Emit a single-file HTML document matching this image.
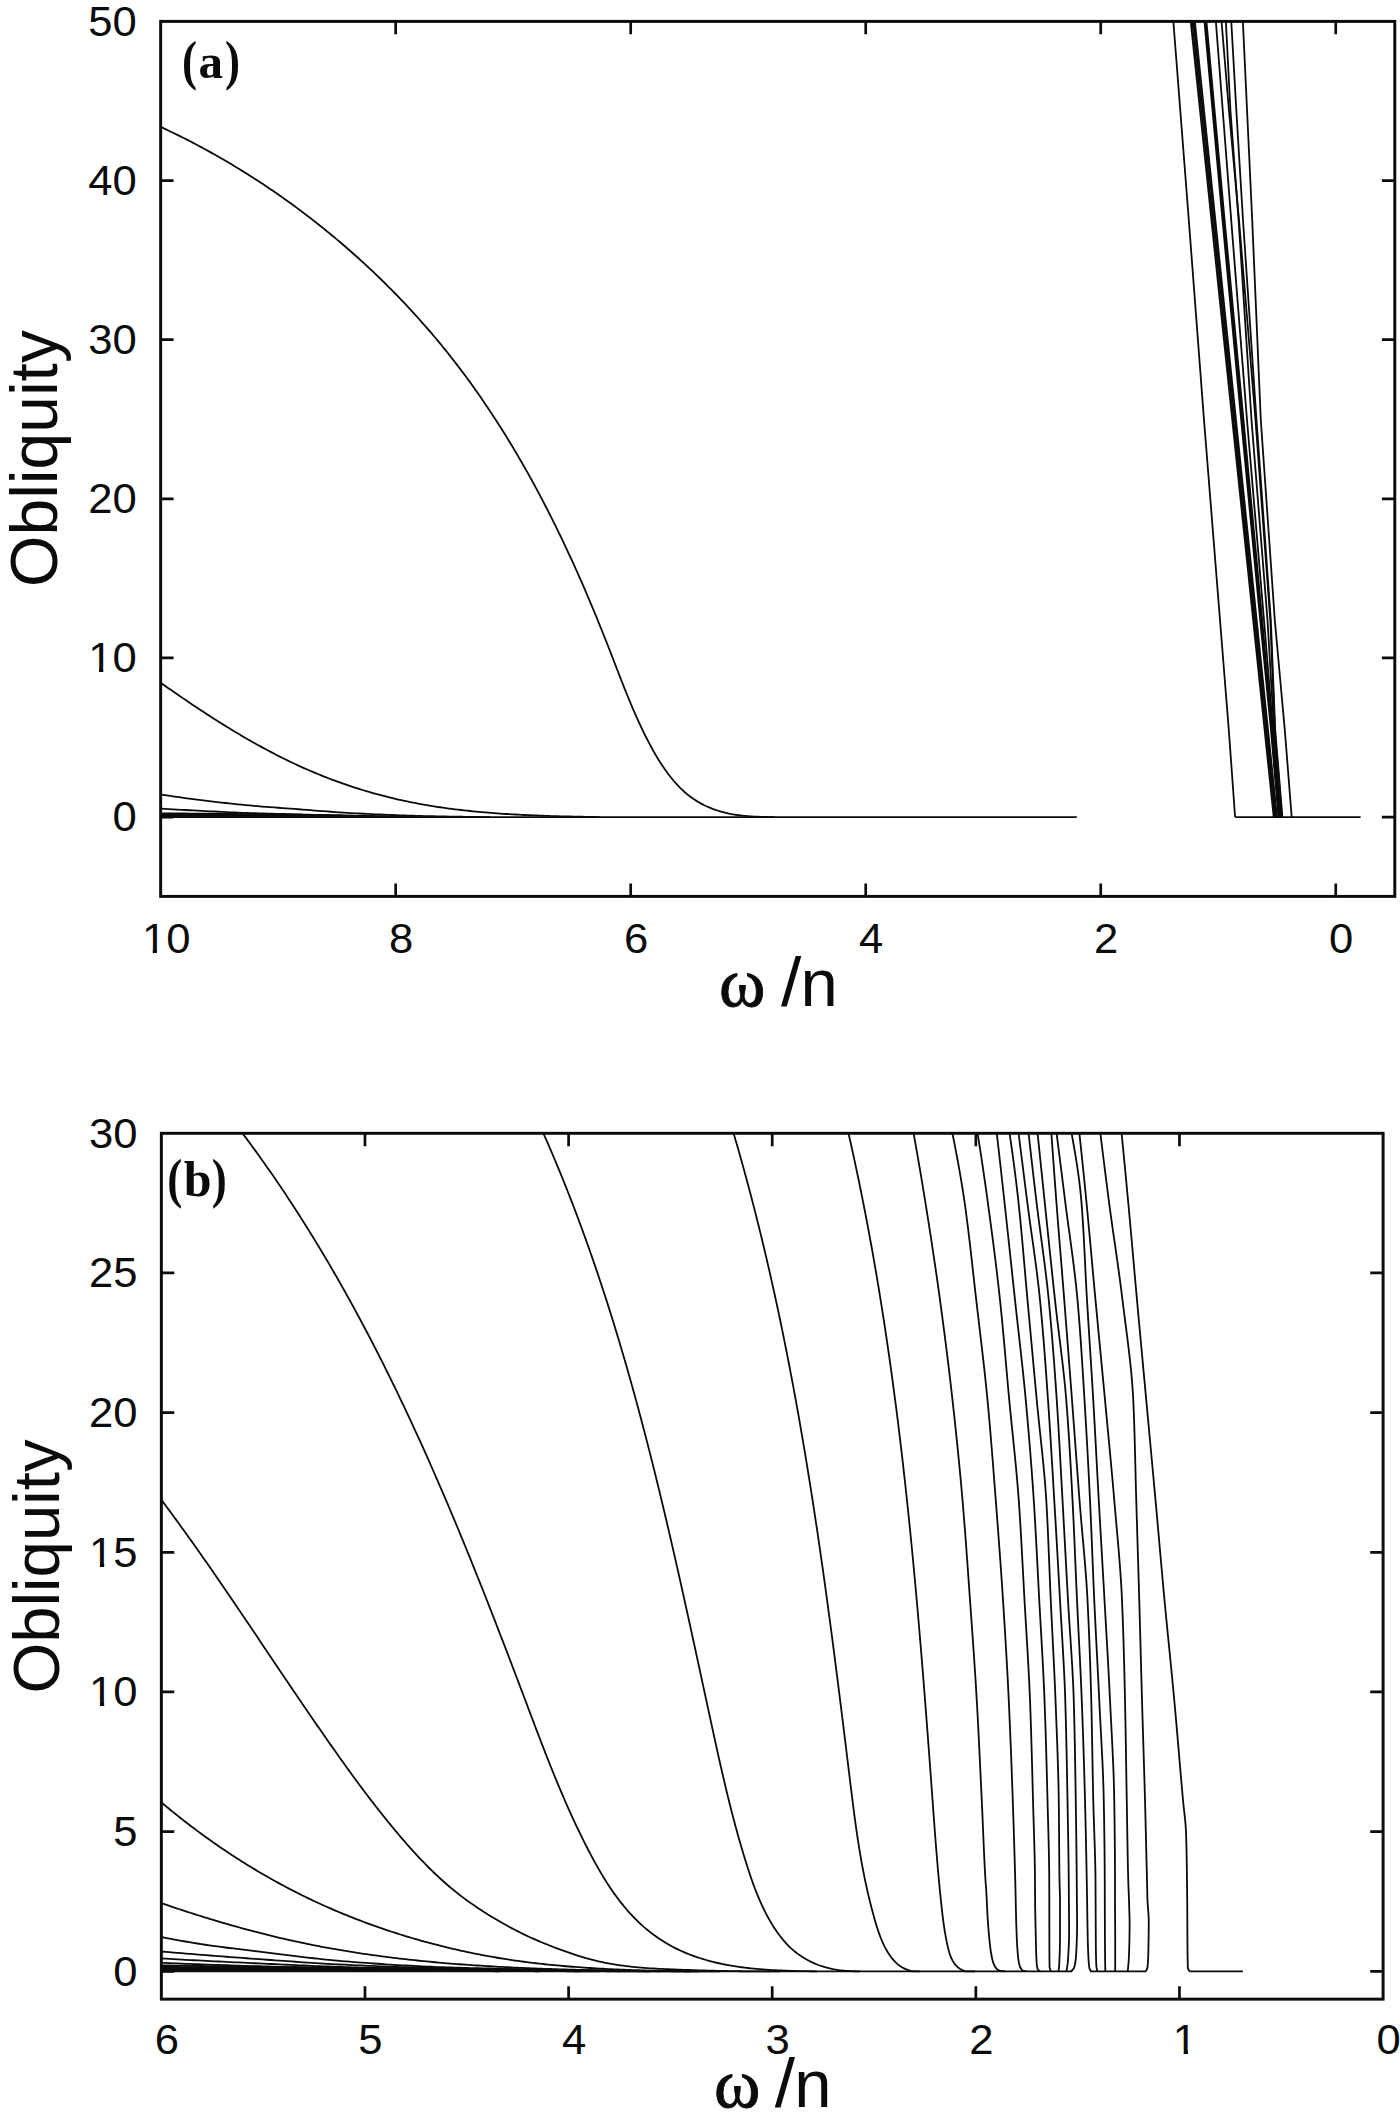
<!DOCTYPE html>
<html lang="en">
<head>
<meta charset="utf-8">
<title>Obliquity vs ω/n</title>
<style>
html,body{margin:0;padding:0;background:#fff;}
body{width:1400px;height:2126px;overflow:hidden;}
svg{display:block;}
</style>
</head>
<body>
<svg width="1400" height="2126" viewBox="0 0 1400 2126">
<rect width="1400" height="2126" fill="#ffffff"/>
<clipPath id="ca"><rect x="160.65" y="21.4" width="1234.15" height="875"/></clipPath>
<g clip-path="url(#ca)" fill="none" stroke="#0b0b0b" stroke-width="1.8" stroke-linejoin="round">
<path d="M160.65,126.90 L163.34,128.15 L166.03,129.41 L168.72,130.69 L171.40,131.97 L174.08,133.27 L176.75,134.58 L179.42,135.89 L182.09,137.22 L184.75,138.57 L187.41,139.92 L190.06,141.28 L192.71,142.66 L195.36,144.05 L198.00,145.44 L200.64,146.85 L203.27,148.27 L205.90,149.70 L208.52,151.14 L211.14,152.60 L213.76,154.06 L216.37,155.53 L218.98,157.02 L221.58,158.51 L224.18,160.02 L226.77,161.54 L229.36,163.06 L231.94,164.60 L234.52,166.15 L237.09,167.71 L239.66,169.28 L242.22,170.86 L244.78,172.45 L247.33,174.05 L249.88,175.66 L252.42,177.28 L254.96,178.91 L257.49,180.55 L260.01,182.20 L262.53,183.86 L265.05,185.54 L267.56,187.22 L270.06,188.91 L272.56,190.61 L275.05,192.32 L277.54,194.04 L280.02,195.77 L282.49,197.51 L284.96,199.26 L287.42,201.02 L289.88,202.79 L292.33,204.56 L294.77,206.35 L297.21,208.15 L299.64,209.96 L302.07,211.77 L304.48,213.60 L306.90,215.43 L309.30,217.27 L311.70,219.13 L314.10,220.99 L316.48,222.86 L318.86,224.74 L321.23,226.63 L323.60,228.53 L325.96,230.43 L328.31,232.35 L330.66,234.27 L332.99,236.21 L335.32,238.15 L337.65,240.10 L339.97,242.06 L342.27,244.03 L344.58,246.01 L346.87,247.99 L349.16,249.98 L351.44,251.99 L353.71,254.00 L355.98,256.02 L358.24,258.04 L360.48,260.08 L362.73,262.12 L364.96,264.18 L367.19,266.24 L369.41,268.31 L371.62,270.38 L373.82,272.47 L376.02,274.56 L378.20,276.66 L380.38,278.77 L382.55,280.88 L384.72,283.01 L386.87,285.14 L389.02,287.28 L391.15,289.43 L393.28,291.58 L395.40,293.75 L397.51,295.92 L399.62,298.09 L401.71,300.28 L403.80,302.47 L405.88,304.67 L407.95,306.88 L410.01,309.09 L412.06,311.32 L414.10,313.54 L416.13,315.78 L418.16,318.02 L420.17,320.28 L422.18,322.53 L424.17,324.80 L426.16,327.07 L428.14,329.35 L430.11,331.63 L432.07,333.93 L434.02,336.23 L435.96,338.53 L437.89,340.84 L439.81,343.16 L441.72,345.49 L443.62,347.82 L445.51,350.16 L447.40,352.51 L449.27,354.86 L451.13,357.22 L452.98,359.58 L454.83,361.95 L456.66,364.33 L458.48,366.72 L460.30,369.11 L462.10,371.50 L463.90,373.90 L465.69,376.31 L467.46,378.73 L469.23,381.15 L470.99,383.57 L472.74,386.01 L474.48,388.45 L476.21,390.89 L477.93,393.34 L479.65,395.80 L481.35,398.26 L483.05,400.72 L484.73,403.20 L486.41,405.67 L488.08,408.16 L489.74,410.65 L491.39,413.14 L493.04,415.64 L494.67,418.15 L496.30,420.66 L497.92,423.17 L499.53,425.70 L501.13,428.22 L502.72,430.75 L504.31,433.29 L505.89,435.83 L507.46,438.38 L509.02,440.93 L510.57,443.49 L512.12,446.05 L513.65,448.62 L515.18,451.19 L516.71,453.76 L518.22,456.34 L519.73,458.93 L521.23,461.52 L522.72,464.12 L524.20,466.71 L525.68,469.32 L527.15,471.93 L528.61,474.54 L530.06,477.16 L531.51,479.78 L532.95,482.40 L534.38,485.03 L535.81,487.67 L537.23,490.31 L538.64,492.95 L540.04,495.60 L541.44,498.25 L542.83,500.90 L544.22,503.56 L545.59,506.22 L546.96,508.89 L548.33,511.56 L549.69,514.24 L551.04,516.91 L552.38,519.59 L553.72,522.28 L555.05,524.97 L556.38,527.66 L557.70,530.36 L559.01,533.06 L560.32,535.76 L561.62,538.47 L562.91,541.18 L564.20,543.89 L565.48,546.61 L566.76,549.33 L568.03,552.05 L569.30,554.78 L570.56,557.50 L571.81,560.24 L573.06,562.97 L574.30,565.71 L575.54,568.45 L576.77,571.20 L578.00,573.94 L579.22,576.69 L580.43,579.45 L581.64,582.20 L582.85,584.96 L584.05,587.72 L585.24,590.48 L586.43,593.25 L587.61,596.02 L588.79,598.79 L589.97,601.56 L591.14,604.34 L592.30,607.12 L593.46,609.90 L594.62,612.68 L595.77,615.46 L596.91,618.25 L598.05,621.04 L599.19,623.83 L600.32,626.63 L601.45,629.42 L602.57,632.22 L603.69,635.02 L604.81,637.82 L605.92,640.62 L607.02,643.43 L608.13,646.23 L609.22,649.04 L610.32,651.85 L611.41,654.66 L612.50,657.48 L613.58,660.29 L614.67,663.10 L615.75,665.92 L616.84,668.73 L617.93,671.54 L619.02,674.36 L620.11,677.17 L621.20,679.98 L622.31,682.78 L623.41,685.59 L624.52,688.39 L625.64,691.19 L626.77,693.98 L627.90,696.78 L629.05,699.57 L630.20,702.35 L631.37,705.13 L632.55,707.90 L633.73,710.67 L634.94,713.44 L636.15,716.19 L637.39,718.95 L638.63,721.69 L639.90,724.43 L641.18,727.16 L642.48,729.88 L643.79,732.60 L645.13,735.30 L646.49,738.00 L647.87,740.69 L649.27,743.37 L650.69,746.04 L652.14,748.70 L653.61,751.34 L655.11,753.97 L656.64,756.59 L658.21,759.18 L659.80,761.75 L661.43,764.29 L663.10,766.81 L664.81,769.30 L666.56,771.75 L668.36,774.18 L670.20,776.56 L672.08,778.91 L674.02,781.22 L676.01,783.48 L678.05,785.69 L680.14,787.85 L682.29,789.95 L684.50,791.97 L686.78,793.93 L689.11,795.79 L691.51,797.58 L693.96,799.27 L696.47,800.88 L699.04,802.41 L701.66,803.85 L704.32,805.21 L707.03,806.49 L709.78,807.68 L712.57,808.79 L715.39,809.82 L718.25,810.77 L721.14,811.64 L724.05,812.43 L726.99,813.13 L729.95,813.77 L732.93,814.33 L735.93,814.82 L738.94,815.25 L741.96,815.62 L744.98,815.93 L748.01,816.20 L751.05,816.42 L754.08,816.60 L757.10,816.75 L760.12,816.86 L763.13,816.95 L766.12,817.01 L769.10,817.05 L772.06,817.08 L775.00,817.10"/>
<path d="M161.00,683.00 L163.45,684.71 L165.90,686.43 L168.35,688.14 L170.81,689.85 L173.27,691.56 L175.75,693.27 L178.22,694.98 L180.70,696.68 L183.19,698.38 L185.68,700.07 L188.18,701.76 L190.68,703.45 L193.19,705.13 L195.71,706.81 L198.23,708.48 L200.75,710.15 L203.29,711.81 L205.82,713.47 L208.37,715.12 L210.92,716.77 L213.47,718.40 L216.03,720.03 L218.60,721.66 L221.17,723.27 L223.75,724.88 L226.33,726.48 L228.92,728.07 L231.51,729.66 L234.12,731.23 L236.72,732.79 L239.34,734.35 L241.96,735.90 L244.58,737.43 L247.21,738.96 L249.85,740.47 L252.49,741.97 L255.14,743.46 L257.80,744.95 L260.46,746.41 L263.13,747.87 L265.81,749.31 L268.49,750.75 L271.17,752.16 L273.87,753.57 L276.57,754.96 L279.27,756.34 L281.99,757.70 L284.70,759.05 L287.43,760.39 L290.16,761.70 L292.90,763.01 L295.64,764.30 L298.40,765.57 L301.15,766.83 L303.92,768.07 L306.69,769.29 L309.47,770.50 L312.25,771.69 L315.04,772.86 L317.84,774.02 L320.64,775.16 L323.45,776.29 L326.26,777.39 L329.08,778.48 L331.91,779.56 L334.74,780.62 L337.58,781.66 L340.42,782.68 L343.27,783.69 L346.12,784.68 L348.98,785.65 L351.85,786.61 L354.72,787.54 L357.59,788.47 L360.47,789.37 L363.36,790.26 L366.25,791.13 L369.14,791.98 L372.05,792.81 L374.95,793.63 L377.86,794.43 L380.78,795.22 L383.69,795.98 L386.62,796.73 L389.55,797.46 L392.48,798.17 L395.42,798.86 L398.36,799.54 L401.30,800.20 L404.25,800.84 L407.21,801.47 L410.17,802.07 L413.13,802.66 L416.09,803.24 L419.06,803.79 L422.03,804.33 L425.01,804.86 L427.99,805.37 L430.97,805.86 L433.96,806.34 L436.94,806.80 L439.94,807.25 L442.93,807.69 L445.93,808.11 L448.93,808.52 L451.93,808.91 L454.93,809.29 L457.94,809.66 L460.95,810.01 L463.96,810.35 L466.97,810.68 L469.99,811.00 L473.00,811.31 L476.02,811.60 L479.04,811.89 L482.06,812.16 L485.08,812.42 L488.11,812.67 L491.13,812.92 L494.16,813.15 L497.19,813.37 L500.22,813.58 L503.24,813.79 L506.27,813.98 L509.31,814.17 L512.34,814.35 L515.37,814.52 L518.40,814.68 L521.43,814.84 L524.46,814.98 L527.49,815.13 L530.53,815.26 L533.56,815.39 L536.59,815.51 L539.62,815.63 L542.65,815.74 L545.68,815.84 L548.71,815.94 L551.74,816.03 L554.77,816.12 L557.79,816.21 L560.82,816.29 L563.84,816.37 L566.86,816.44 L569.88,816.51 L572.90,816.58 L575.92,816.65 L578.94,816.71 L581.95,816.77 L584.97,816.83 L587.98,816.88 L590.99,816.94 L593.99,816.99 L597.00,817.05 L600.00,817.10"/>
<path d="M160.65,794.50 L164.69,795.11 L168.72,795.72 L172.76,796.31 L176.80,796.89 L180.85,797.46 L184.89,798.02 L188.93,798.57 L192.98,799.10 L197.02,799.63 L201.07,800.15 L205.12,800.65 L209.17,801.14 L213.22,801.63 L217.27,802.10 L221.32,802.56 L225.37,803.01 L229.43,803.44 L233.48,803.87 L237.54,804.29 L241.59,804.69 L245.65,805.09 L249.71,805.47 L253.77,805.84 L257.83,806.19 L261.89,806.53 L265.96,806.85 L270.03,807.16 L274.10,807.47 L278.16,807.77 L282.23,808.06 L286.30,808.36 L290.37,808.66 L294.44,808.96 L298.51,809.27 L302.57,809.58 L306.64,809.90 L310.71,810.22 L314.77,810.53 L318.84,810.85 L322.91,811.16 L326.98,811.47 L331.04,811.77 L335.11,812.06 L339.18,812.33 L343.25,812.60 L347.32,812.85 L351.39,813.08 L355.46,813.30 L359.54,813.52 L363.61,813.73 L367.68,813.94 L371.76,814.14 L375.83,814.33 L379.91,814.51 L383.98,814.69 L388.06,814.86 L392.14,815.02 L396.21,815.17 L400.29,815.31 L404.36,815.45 L408.44,815.58 L412.52,815.71 L416.59,815.83 L420.67,815.95 L424.75,816.06 L428.83,816.16 L432.90,816.25 L436.98,816.34 L441.06,816.42 L445.14,816.50 L449.22,816.57 L453.29,816.64 L457.37,816.71 L461.45,816.77 L465.53,816.83 L469.61,816.89 L473.68,816.94 L477.76,816.99 L481.84,817.03 L485.92,817.07 L490.00,817.10"/>
<path d="M160.65,808.60 L164.76,808.85 L168.87,809.09 L172.99,809.33 L177.10,809.56 L181.21,809.80 L185.32,810.02 L189.44,810.25 L193.55,810.47 L197.66,810.68 L201.78,810.89 L205.89,811.10 L210.01,811.31 L214.12,811.52 L218.23,811.73 L222.35,811.93 L226.46,812.13 L230.58,812.32 L234.69,812.50 L238.81,812.67 L242.93,812.83 L247.04,812.97 L251.16,813.11 L255.28,813.24 L259.39,813.36 L263.51,813.48 L267.63,813.59 L271.75,813.70 L275.86,813.81 L279.98,813.91 L284.10,814.02 L288.22,814.12 L292.34,814.23 L296.45,814.34 L300.57,814.45 L304.69,814.56 L308.81,814.67 L312.93,814.78 L317.04,814.89 L321.16,814.99 L325.28,815.10 L329.40,815.21 L333.51,815.31 L337.63,815.41 L341.75,815.51 L345.87,815.61 L349.99,815.70 L354.11,815.79 L358.22,815.88 L362.34,815.97 L366.46,816.06 L370.58,816.15 L374.70,816.24 L378.81,816.32 L382.93,816.41 L387.05,816.49 L391.17,816.57 L395.29,816.65 L399.41,816.73 L403.53,816.81 L407.64,816.88 L411.76,816.96 L415.88,817.03 L420.00,817.10"/>
<path d="M160.65,813.30 L164.74,813.33 L168.83,813.37 L172.91,813.40 L177.00,813.44 L181.09,813.47 L185.18,813.51 L189.27,813.54 L193.35,813.58 L197.44,813.62 L201.53,813.66 L205.62,813.70 L209.71,813.74 L213.80,813.78 L217.88,813.82 L221.97,813.86 L226.06,813.90 L230.15,813.94 L234.24,813.99 L238.32,814.03 L242.41,814.07 L246.50,814.12 L250.59,814.16 L254.68,814.20 L258.76,814.25 L262.85,814.29 L266.94,814.34 L271.03,814.39 L275.12,814.44 L279.20,814.49 L283.29,814.54 L287.38,814.59 L291.47,814.65 L295.55,814.71 L299.64,814.77 L303.73,814.83 L307.82,814.90 L311.91,814.97 L315.99,815.04 L320.08,815.11 L324.17,815.18 L328.26,815.26 L332.34,815.34 L336.43,815.42 L340.52,815.50 L344.61,815.58 L348.69,815.67 L352.78,815.75 L356.87,815.83 L360.96,815.92 L365.04,816.01 L369.13,816.10 L373.22,816.19 L377.30,816.28 L381.39,816.38 L385.48,816.48 L389.57,816.58 L393.65,816.68 L397.74,816.78 L401.83,816.89 L405.91,816.99 L410.00,817.10"/>
<path d="M160.65,814.10 L164.78,814.10 L168.90,814.10 L173.03,814.11 L177.16,814.12 L181.29,814.13 L185.41,814.14 L189.54,814.16 L193.67,814.17 L197.80,814.19 L201.92,814.21 L206.05,814.23 L210.18,814.26 L214.30,814.28 L218.43,814.31 L222.56,814.34 L226.69,814.37 L230.81,814.40 L234.94,814.43 L239.07,814.46 L243.19,814.50 L247.32,814.53 L251.45,814.57 L255.57,814.61 L259.70,814.65 L263.83,814.68 L267.96,814.72 L272.08,814.77 L276.21,814.81 L280.34,814.85 L284.46,814.89 L288.59,814.93 L292.72,814.98 L296.84,815.02 L300.97,815.07 L305.10,815.13 L309.22,815.19 L313.35,815.26 L317.48,815.34 L321.60,815.42 L325.73,815.50 L329.85,815.58 L333.98,815.67 L338.11,815.76 L342.23,815.84 L346.36,815.93 L350.49,816.01 L354.61,816.09 L358.74,816.18 L362.87,816.26 L366.99,816.35 L371.12,816.44 L375.24,816.53 L379.37,816.62 L383.50,816.72 L387.62,816.81 L391.75,816.91 L395.87,817.00 L400.00,817.10"/>
<path d="M160.65,814.90 L164.79,814.90 L168.93,814.90 L173.07,814.91 L177.21,814.92 L181.35,814.93 L185.48,814.94 L189.62,814.95 L193.76,814.97 L197.90,814.98 L202.04,815.00 L206.18,815.02 L210.32,815.04 L214.46,815.07 L218.60,815.09 L222.74,815.11 L226.87,815.14 L231.01,815.17 L235.15,815.20 L239.29,815.23 L243.43,815.26 L247.57,815.29 L251.71,815.32 L255.85,815.36 L259.98,815.39 L264.12,815.43 L268.26,815.46 L272.40,815.50 L276.54,815.53 L280.68,815.57 L284.82,815.61 L288.96,815.65 L293.09,815.68 L297.23,815.72 L301.37,815.76 L305.51,815.81 L309.65,815.86 L313.79,815.91 L317.93,815.97 L322.06,816.03 L326.20,816.09 L330.34,816.16 L334.48,816.23 L338.62,816.30 L342.76,816.37 L346.89,816.45 L351.03,816.52 L355.17,816.60 L359.31,816.68 L363.45,816.76 L367.59,816.85 L371.72,816.93 L375.86,817.02 L380.00,817.10"/>
<path d="M160.65,815.60 L164.80,815.60 L168.96,815.61 L173.11,815.61 L177.26,815.62 L181.42,815.63 L185.57,815.64 L189.72,815.65 L193.88,815.67 L198.03,815.68 L202.18,815.70 L206.34,815.72 L210.49,815.74 L214.64,815.76 L218.80,815.78 L222.95,815.80 L227.10,815.82 L231.26,815.85 L235.41,815.87 L239.56,815.90 L243.72,815.93 L247.87,815.95 L252.02,815.98 L256.17,816.01 L260.33,816.04 L264.48,816.07 L268.63,816.10 L272.79,816.13 L276.94,816.16 L281.09,816.19 L285.25,816.23 L289.40,816.26 L293.55,816.29 L297.71,816.32 L301.86,816.36 L306.01,816.40 L310.16,816.44 L314.32,816.48 L318.47,816.53 L322.62,816.58 L326.78,816.63 L330.93,816.69 L335.08,816.74 L339.24,816.80 L343.39,816.86 L347.54,816.92 L351.69,816.98 L355.85,817.04 L360.00,817.10"/>
<path d="M160.65,816.30 L164.82,816.31 L168.99,816.31 L173.16,816.32 L177.33,816.33 L181.50,816.34 L185.68,816.35 L189.85,816.36 L194.02,816.37 L198.19,816.39 L202.36,816.40 L206.53,816.41 L210.70,816.43 L214.87,816.44 L219.04,816.46 L223.21,816.47 L227.39,816.49 L231.56,816.51 L235.73,816.52 L239.90,816.54 L244.07,816.56 L248.24,816.58 L252.41,816.60 L256.58,816.61 L260.75,816.63 L264.92,816.65 L269.09,816.67 L273.27,816.69 L277.44,816.71 L281.61,816.73 L285.78,816.75 L289.95,816.77 L294.12,816.80 L298.29,816.82 L302.46,816.84 L306.63,816.87 L310.80,816.89 L314.97,816.92 L319.15,816.95 L323.32,816.98 L327.49,817.01 L331.66,817.04 L335.83,817.07 L340.00,817.10"/>
<path d="M160.65,817.1 L1076.75,817.1"/>
<path d="M1235.1,817.1 L1360.6,817.1"/>
<path d="M1173.40,22.00 L1188.80,220.00 L1204.00,420.00 L1220.00,620.00 L1228.80,730.00 L1235.10,817.00"/>
<path d="M1190.80,22.00 L1273.70,817.00"/>
<path d="M1192.20,22.00 L1274.80,817.00"/>
<path d="M1193.60,22.00 L1275.90,817.00"/>
<path d="M1194.90,22.00 L1277.00,817.00"/>
<path d="M1204.50,22.00 L1222.50,220.00 L1241.20,420.00 L1260.20,620.00 L1271.00,730.00 L1278.50,817.00"/>
<path d="M1205.50,22.00 L1223.50,220.00 L1242.30,420.00 L1261.20,620.00 L1271.50,730.00 L1279.00,817.00"/>
<path d="M1206.50,22.00 L1224.60,220.00 L1243.50,420.00 L1262.20,620.00 L1272.00,730.00 L1279.40,817.00"/>
<path d="M1215.90,22.00 L1231.20,220.00 L1247.00,420.00 L1264.00,620.00 L1273.00,730.00 L1280.00,817.00"/>
<path d="M1225.90,22.00 L1230.40,110.00 L1238.60,220.00 L1251.50,420.00 L1267.50,620.00 L1274.00,730.00 L1281.00,817.00"/>
<path d="M1221.60,22.00 L1228.90,110.00 L1239.00,220.00 L1255.50,420.00 L1270.30,620.00 L1274.80,730.00 L1281.80,817.00"/>
<path d="M1231.30,22.00 L1236.30,110.00 L1243.00,220.00 L1256.50,420.00 L1270.80,620.00 L1275.20,730.00 L1282.40,817.00"/>
<path d="M1242.90,22.00 L1252.20,220.00 L1260.80,420.00 L1274.80,620.00 L1284.80,730.00 L1291.70,817.00"/>
</g>
<rect x="160.65" y="21.4" width="1234.1499999999999" height="875.0" fill="none" stroke="#0b0b0b" stroke-width="2.95"/>
<path d="M395.67,21.4 v12.9 M395.67,896.4 v-12.9 M630.69,21.4 v12.9 M630.69,896.4 v-12.9 M865.71,21.4 v12.9 M865.71,896.4 v-12.9 M1100.73,21.4 v12.9 M1100.73,896.4 v-12.9 M1335.75,21.4 v12.9 M1335.75,896.4 v-12.9 M160.65,817.10 h12.9 M1394.8,817.10 h-12.9 M160.65,657.96 h12.9 M1394.8,657.96 h-12.9 M160.65,498.82 h12.9 M1394.8,498.82 h-12.9 M160.65,339.68 h12.9 M1394.8,339.68 h-12.9 M160.65,180.54 h12.9 M1394.8,180.54 h-12.9 " fill="none" stroke="#0b0b0b" stroke-width="2.7"/>
<text transform="translate(136.70,831.30) scale(1.014,1)" font-family="'Liberation Sans', sans-serif" font-size="43" text-anchor="end" fill="#0b0b0b">0</text>
<clipPath id="k1"><rect x="83.20" y="627.16" width="58.50" height="40.84"/><rect x="99.00" y="665.16" width="4.3" height="9"/><rect x="112.45" y="665.16" width="29.25" height="11"/></clipPath>
<g clip-path="url(#k1)"><text transform="translate(136.70,672.16) scale(1.014,1)" font-family="'Liberation Sans', sans-serif" font-size="43" text-anchor="end" fill="#0b0b0b">10</text></g>
<text transform="translate(136.70,513.02) scale(1.014,1)" font-family="'Liberation Sans', sans-serif" font-size="43" text-anchor="end" fill="#0b0b0b">20</text>
<text transform="translate(136.70,353.88) scale(1.014,1)" font-family="'Liberation Sans', sans-serif" font-size="43" text-anchor="end" fill="#0b0b0b">30</text>
<text transform="translate(136.70,194.74) scale(1.014,1)" font-family="'Liberation Sans', sans-serif" font-size="43" text-anchor="end" fill="#0b0b0b">40</text>
<text transform="translate(136.70,35.60) scale(1.014,1)" font-family="'Liberation Sans', sans-serif" font-size="43" text-anchor="end" fill="#0b0b0b">50</text>
<clipPath id="k2"><rect x="136.90" y="907.60" width="58.50" height="41.40"/><rect x="152.70" y="945.60" width="4.3" height="9"/><rect x="166.15" y="945.60" width="29.25" height="11"/></clipPath>
<g clip-path="url(#k2)"><text transform="translate(166.15,952.60) scale(1.014,1)" font-family="'Liberation Sans', sans-serif" font-size="43" text-anchor="middle" fill="#0b0b0b">10</text></g>
<text transform="translate(401.17,952.60) scale(1.014,1)" font-family="'Liberation Sans', sans-serif" font-size="43" text-anchor="middle" fill="#0b0b0b">8</text>
<text transform="translate(636.19,952.60) scale(1.014,1)" font-family="'Liberation Sans', sans-serif" font-size="43" text-anchor="middle" fill="#0b0b0b">6</text>
<text transform="translate(871.21,952.60) scale(1.014,1)" font-family="'Liberation Sans', sans-serif" font-size="43" text-anchor="middle" fill="#0b0b0b">4</text>
<text transform="translate(1106.23,952.60) scale(1.014,1)" font-family="'Liberation Sans', sans-serif" font-size="43" text-anchor="middle" fill="#0b0b0b">2</text>
<text transform="translate(1341.25,952.60) scale(1.014,1)" font-family="'Liberation Sans', sans-serif" font-size="43" text-anchor="middle" fill="#0b0b0b">0</text>
<text transform="translate(56.8,458.5) rotate(-90)" font-family="'Liberation Sans', sans-serif" font-size="66" text-anchor="middle" fill="#0b0b0b">Obliquity</text>
<text y="1006.00" fill="#0b0b0b"><tspan x="719.00" font-family="'Liberation Serif', serif" font-size="70.5" stroke="#0b0b0b" stroke-width="0.9">ω</tspan><tspan font-family="'Liberation Sans', sans-serif" font-size="67"> </tspan><tspan x="781.00" font-family="'Liberation Sans', sans-serif" font-size="67.6" textLength="20.29" lengthAdjust="spacingAndGlyphs">/</tspan><tspan x="800.50" font-family="'Liberation Sans', sans-serif" font-size="67">n</tspan></text>
<text y="78.00" font-family="'Liberation Serif', serif" font-weight="bold" fill="#0b0b0b"><tspan x="182.00" dy="1" font-size="54.4" textLength="15.04" lengthAdjust="spacingAndGlyphs">(</tspan><tspan x="198.50" dy="-1" font-size="49">a</tspan><tspan x="225.00" dy="1" font-size="54.4" textLength="15.04" lengthAdjust="spacingAndGlyphs">)</tspan></text>
<clipPath id="cb"><rect x="161.35" y="1133.3" width="1221.75" height="865.85"/></clipPath>
<g clip-path="url(#cb)" fill="none" stroke="#0b0b0b" stroke-width="1.8" stroke-linejoin="round">
<path d="M242.50,1133.30 L244.32,1135.73 L246.14,1138.16 L247.94,1140.60 L249.75,1143.04 L251.54,1145.49 L253.33,1147.94 L255.11,1150.39 L256.89,1152.84 L258.66,1155.30 L260.42,1157.77 L262.18,1160.23 L263.93,1162.70 L265.68,1165.17 L267.42,1167.65 L269.15,1170.13 L270.88,1172.61 L272.60,1175.10 L274.31,1177.59 L276.02,1180.08 L277.72,1182.58 L279.42,1185.08 L281.11,1187.58 L282.79,1190.09 L284.47,1192.60 L286.14,1195.11 L287.81,1197.63 L289.47,1200.15 L291.13,1202.67 L292.77,1205.20 L294.42,1207.73 L296.06,1210.26 L297.69,1212.80 L299.31,1215.34 L300.94,1217.88 L302.55,1220.42 L304.16,1222.97 L305.76,1225.52 L307.36,1228.08 L308.96,1230.63 L310.54,1233.19 L312.13,1235.76 L313.70,1238.32 L315.27,1240.89 L316.84,1243.47 L318.40,1246.04 L319.96,1248.62 L321.51,1251.20 L323.05,1253.78 L324.59,1256.37 L326.13,1258.96 L327.66,1261.55 L329.18,1264.15 L330.70,1266.74 L332.21,1269.34 L333.72,1271.95 L335.23,1274.55 L336.73,1277.16 L338.22,1279.77 L339.71,1282.39 L341.19,1285.00 L342.67,1287.62 L344.15,1290.25 L345.62,1292.87 L347.08,1295.50 L348.54,1298.13 L350.00,1300.76 L351.45,1303.39 L352.90,1306.03 L354.34,1308.67 L355.77,1311.31 L357.21,1313.96 L358.63,1316.61 L360.06,1319.26 L361.48,1321.91 L362.89,1324.56 L364.30,1327.22 L365.71,1329.88 L367.11,1332.54 L368.50,1335.20 L369.89,1337.87 L371.28,1340.54 L372.67,1343.21 L374.05,1345.88 L375.42,1348.56 L376.79,1351.24 L378.16,1353.92 L379.52,1356.60 L380.88,1359.28 L382.23,1361.97 L383.58,1364.66 L384.93,1367.35 L386.27,1370.04 L387.61,1372.74 L388.94,1375.43 L390.27,1378.13 L391.60,1380.83 L392.92,1383.54 L394.24,1386.24 L395.56,1388.95 L396.87,1391.66 L398.18,1394.37 L399.48,1397.08 L400.78,1399.80 L402.08,1402.51 L403.37,1405.23 L404.66,1407.95 L405.94,1410.67 L407.22,1413.40 L408.50,1416.12 L409.78,1418.85 L411.05,1421.58 L412.32,1424.31 L413.58,1427.05 L414.84,1429.78 L416.10,1432.52 L417.35,1435.26 L418.61,1438.00 L419.85,1440.74 L421.10,1443.48 L422.34,1446.23 L423.58,1448.97 L424.81,1451.72 L426.04,1454.47 L427.27,1457.22 L428.50,1459.98 L429.72,1462.73 L430.94,1465.49 L432.16,1468.24 L433.37,1471.00 L434.58,1473.76 L435.79,1476.52 L436.99,1479.29 L438.20,1482.05 L439.39,1484.82 L440.59,1487.58 L441.78,1490.35 L442.97,1493.12 L444.16,1495.89 L445.35,1498.67 L446.53,1501.44 L447.71,1504.22 L448.89,1506.99 L450.06,1509.77 L451.23,1512.55 L452.40,1515.33 L453.57,1518.11 L454.74,1520.89 L455.90,1523.68 L457.06,1526.46 L458.22,1529.25 L459.37,1532.03 L460.52,1534.82 L461.67,1537.61 L462.82,1540.40 L463.97,1543.19 L465.11,1545.98 L466.25,1548.78 L467.39,1551.57 L468.53,1554.37 L469.67,1557.16 L470.80,1559.96 L471.93,1562.76 L473.06,1565.56 L474.19,1568.36 L475.31,1571.16 L476.43,1573.96 L477.56,1576.76 L478.67,1579.56 L479.79,1582.37 L480.91,1585.17 L482.02,1587.98 L483.13,1590.78 L484.24,1593.59 L485.35,1596.40 L486.46,1599.21 L487.56,1602.01 L488.67,1604.82 L489.77,1607.63 L490.87,1610.44 L491.97,1613.26 L493.07,1616.07 L494.16,1618.88 L495.26,1621.69 L496.35,1624.51 L497.44,1627.32 L498.53,1630.13 L499.62,1632.95 L500.71,1635.77 L501.79,1638.58 L502.88,1641.40 L503.96,1644.21 L505.04,1647.03 L506.13,1649.85 L507.21,1652.67 L508.29,1655.49 L509.36,1658.30 L510.44,1661.12 L511.52,1663.94 L512.59,1666.76 L513.66,1669.58 L514.74,1672.40 L515.81,1675.22 L516.88,1678.04 L517.95,1680.86 L519.02,1683.68 L520.09,1686.50 L521.15,1689.32 L522.22,1692.15 L523.29,1694.97 L524.35,1697.79 L525.42,1700.61 L526.48,1703.43 L527.55,1706.25 L528.61,1709.07 L529.67,1711.89 L530.74,1714.71 L531.80,1717.53 L532.87,1720.35 L533.93,1723.17 L535.00,1725.99 L536.07,1728.81 L537.15,1731.63 L538.22,1734.44 L539.30,1737.26 L540.38,1740.07 L541.46,1742.88 L542.54,1745.69 L543.63,1748.50 L544.73,1751.31 L545.82,1754.12 L546.92,1756.93 L548.03,1759.73 L549.14,1762.53 L550.25,1765.33 L551.37,1768.13 L552.50,1770.93 L553.63,1773.72 L554.77,1776.51 L555.91,1779.30 L557.06,1782.09 L558.22,1784.87 L559.38,1787.65 L560.56,1790.43 L561.73,1793.21 L562.92,1795.98 L564.12,1798.75 L565.32,1801.52 L566.53,1804.29 L567.75,1807.05 L568.98,1809.81 L570.22,1812.56 L571.46,1815.31 L572.72,1818.06 L573.99,1820.80 L575.27,1823.54 L576.56,1826.28 L577.86,1829.01 L579.17,1831.74 L580.49,1834.47 L581.82,1837.19 L583.16,1839.90 L584.52,1842.62 L585.89,1845.32 L587.27,1848.03 L588.67,1850.73 L590.08,1853.42 L591.50,1856.11 L592.94,1858.79 L594.39,1861.46 L595.86,1864.12 L597.35,1866.77 L598.86,1869.41 L600.38,1872.03 L601.93,1874.64 L603.50,1877.23 L605.09,1879.81 L606.70,1882.37 L608.34,1884.91 L610.01,1887.43 L611.69,1889.93 L613.41,1892.41 L615.15,1894.87 L616.93,1897.29 L618.73,1899.70 L620.56,1902.08 L622.42,1904.42 L624.32,1906.74 L626.24,1909.03 L628.20,1911.29 L630.20,1913.51 L632.23,1915.71 L634.30,1917.86 L636.40,1919.98 L638.55,1922.07 L640.73,1924.11 L642.95,1926.12 L645.22,1928.08 L647.52,1930.00 L649.87,1931.88 L652.25,1933.72 L654.68,1935.51 L657.14,1937.25 L659.63,1938.95 L662.16,1940.60 L664.72,1942.20 L667.31,1943.75 L669.93,1945.24 L672.58,1946.69 L675.26,1948.08 L677.96,1949.41 L680.68,1950.69 L683.43,1951.92 L686.20,1953.10 L688.99,1954.23 L691.80,1955.31 L694.63,1956.34 L697.48,1957.32 L700.34,1958.26 L703.23,1959.16 L706.12,1960.01 L709.04,1960.82 L711.96,1961.58 L714.90,1962.31 L717.85,1963.00 L720.82,1963.65 L723.79,1964.27 L726.77,1964.85 L729.76,1965.40 L732.76,1965.91 L735.76,1966.39 L738.77,1966.84 L741.78,1967.26 L744.80,1967.65 L747.82,1968.01 L750.84,1968.35 L753.86,1968.66 L756.88,1968.95 L759.90,1969.21 L762.92,1969.46 L765.94,1969.68 L768.95,1969.88 L771.96,1970.06 L774.97,1970.23 L777.98,1970.38 L780.99,1970.51 L783.99,1970.64 L787.00,1970.74 L790.00,1970.84 L793.00,1970.92 L796.01,1971.00 L799.01,1971.06 L802.01,1971.12 L805.00,1971.18 L808.00,1971.22 L811.00,1971.27 L814.00,1971.31 L817.00,1971.35"/>
<path d="M543.40,1133.30 L544.62,1136.06 L545.84,1138.82 L547.05,1141.59 L548.25,1144.36 L549.45,1147.13 L550.64,1149.90 L551.82,1152.67 L553.00,1155.45 L554.18,1158.23 L555.35,1161.00 L556.51,1163.79 L557.67,1166.57 L558.82,1169.36 L559.96,1172.14 L561.10,1174.93 L562.24,1177.72 L563.36,1180.52 L564.49,1183.31 L565.61,1186.11 L566.72,1188.91 L567.82,1191.71 L568.93,1194.51 L570.02,1197.32 L571.11,1200.12 L572.20,1202.93 L573.28,1205.74 L574.35,1208.55 L575.42,1211.37 L576.49,1214.18 L577.55,1217.00 L578.60,1219.82 L579.65,1222.64 L580.69,1225.46 L581.73,1228.28 L582.77,1231.11 L583.80,1233.94 L584.82,1236.76 L585.84,1239.59 L586.85,1242.43 L587.86,1245.26 L588.87,1248.10 L589.87,1250.93 L590.86,1253.77 L591.85,1256.61 L592.84,1259.45 L593.82,1262.30 L594.80,1265.14 L595.77,1267.99 L596.74,1270.84 L597.70,1273.69 L598.66,1276.54 L599.61,1279.39 L600.56,1282.24 L601.51,1285.10 L602.45,1287.96 L603.38,1290.81 L604.32,1293.67 L605.24,1296.54 L606.17,1299.40 L607.09,1302.26 L608.00,1305.13 L608.91,1307.99 L609.82,1310.86 L610.72,1313.73 L611.62,1316.60 L612.52,1319.47 L613.41,1322.35 L614.29,1325.22 L615.18,1328.10 L616.05,1330.98 L616.93,1333.85 L617.80,1336.73 L618.67,1339.61 L619.53,1342.50 L620.39,1345.38 L621.25,1348.26 L622.10,1351.15 L622.95,1354.04 L623.79,1356.93 L624.63,1359.81 L625.47,1362.71 L626.31,1365.60 L627.14,1368.49 L627.97,1371.38 L628.79,1374.28 L629.61,1377.17 L630.43,1380.07 L631.24,1382.97 L632.05,1385.87 L632.86,1388.77 L633.66,1391.67 L634.46,1394.57 L635.26,1397.48 L636.06,1400.38 L636.85,1403.28 L637.63,1406.19 L638.42,1409.10 L639.20,1412.01 L639.98,1414.91 L640.76,1417.82 L641.53,1420.73 L642.30,1423.65 L643.07,1426.56 L643.83,1429.47 L644.59,1432.39 L645.35,1435.30 L646.11,1438.22 L646.86,1441.13 L647.61,1444.05 L648.36,1446.97 L649.11,1449.89 L649.85,1452.81 L650.59,1455.73 L651.33,1458.65 L652.06,1461.57 L652.80,1464.50 L653.53,1467.42 L654.25,1470.34 L654.98,1473.27 L655.70,1476.19 L656.42,1479.12 L657.14,1482.05 L657.86,1484.97 L658.57,1487.90 L659.28,1490.83 L659.99,1493.76 L660.70,1496.69 L661.41,1499.62 L662.11,1502.55 L662.81,1505.48 L663.51,1508.42 L664.21,1511.35 L664.90,1514.28 L665.60,1517.21 L666.29,1520.15 L666.98,1523.08 L667.67,1526.02 L668.35,1528.95 L669.04,1531.89 L669.72,1534.83 L670.40,1537.76 L671.08,1540.70 L671.76,1543.64 L672.43,1546.58 L673.11,1549.52 L673.78,1552.45 L674.45,1555.39 L675.12,1558.33 L675.79,1561.27 L676.46,1564.21 L677.12,1567.15 L677.79,1570.09 L678.45,1573.03 L679.11,1575.98 L679.77,1578.92 L680.43,1581.86 L681.09,1584.80 L681.75,1587.74 L682.40,1590.69 L683.06,1593.63 L683.71,1596.57 L684.36,1599.51 L685.01,1602.46 L685.66,1605.40 L686.31,1608.34 L686.96,1611.29 L687.61,1614.23 L688.26,1617.17 L688.90,1620.12 L689.55,1623.06 L690.19,1626.01 L690.83,1628.95 L691.48,1631.89 L692.12,1634.84 L692.76,1637.78 L693.40,1640.73 L694.04,1643.67 L694.68,1646.61 L695.32,1649.56 L695.96,1652.50 L696.60,1655.45 L697.24,1658.39 L697.87,1661.33 L698.51,1664.28 L699.15,1667.22 L699.78,1670.16 L700.42,1673.11 L701.06,1676.05 L701.69,1678.99 L702.33,1681.94 L702.96,1684.88 L703.60,1687.82 L704.23,1690.76 L704.87,1693.70 L705.51,1696.65 L706.14,1699.59 L706.78,1702.53 L707.41,1705.47 L708.05,1708.41 L708.68,1711.35 L709.32,1714.29 L709.95,1717.23 L710.59,1720.17 L711.23,1723.11 L711.86,1726.05 L712.50,1728.99 L713.14,1731.92 L713.78,1734.86 L714.42,1737.80 L715.06,1740.74 L715.71,1743.67 L716.35,1746.61 L717.00,1749.54 L717.65,1752.47 L718.31,1755.41 L718.96,1758.34 L719.62,1761.27 L720.28,1764.20 L720.95,1767.13 L721.62,1770.06 L722.29,1772.99 L722.97,1775.91 L723.65,1778.84 L724.34,1781.76 L725.03,1784.69 L725.72,1787.61 L726.42,1790.53 L727.13,1793.45 L727.84,1796.37 L728.56,1799.29 L729.28,1802.20 L730.01,1805.12 L730.75,1808.03 L731.49,1810.94 L732.24,1813.85 L733.00,1816.76 L733.76,1819.67 L734.53,1822.58 L735.31,1825.48 L736.10,1828.38 L736.89,1831.28 L737.70,1834.18 L738.51,1837.08 L739.33,1839.98 L740.16,1842.87 L740.99,1845.76 L741.84,1848.65 L742.70,1851.54 L743.57,1854.43 L744.44,1857.31 L745.33,1860.19 L746.23,1863.07 L747.14,1865.95 L748.06,1868.82 L748.99,1871.69 L749.94,1874.56 L750.91,1877.42 L751.90,1880.27 L752.91,1883.11 L753.94,1885.95 L755.00,1888.77 L756.09,1891.59 L757.21,1894.39 L758.35,1897.18 L759.53,1899.95 L760.75,1902.71 L762.00,1905.45 L763.29,1908.18 L764.62,1910.88 L765.99,1913.57 L767.40,1916.24 L768.86,1918.88 L770.37,1921.51 L771.93,1924.11 L773.54,1926.69 L775.20,1929.24 L776.92,1931.76 L778.70,1934.24 L780.53,1936.67 L782.43,1939.06 L784.38,1941.38 L786.41,1943.63 L788.49,1945.80 L790.65,1947.88 L792.87,1949.88 L795.16,1951.80 L797.51,1953.62 L799.92,1955.36 L802.39,1957.00 L804.92,1958.56 L807.50,1960.02 L810.13,1961.40 L812.82,1962.68 L815.55,1963.88 L818.33,1964.98 L821.16,1965.98 L824.03,1966.90 L826.93,1967.72 L829.88,1968.45 L832.87,1969.08 L835.88,1969.62 L838.92,1970.07 L841.97,1970.45 L845.02,1970.75 L848.06,1970.98 L851.09,1971.15 L854.10,1971.27 L857.07,1971.33 L860.00,1971.34"/>
<path d="M733.60,1133.30 L734.45,1136.21 L735.30,1139.13 L736.15,1142.04 L736.99,1144.96 L737.83,1147.87 L738.66,1150.79 L739.49,1153.71 L740.32,1156.62 L741.14,1159.54 L741.95,1162.46 L742.76,1165.38 L743.57,1168.30 L744.37,1171.22 L745.17,1174.14 L745.97,1177.06 L746.76,1179.98 L747.55,1182.90 L748.33,1185.82 L749.11,1188.74 L749.88,1191.67 L750.65,1194.59 L751.42,1197.51 L752.18,1200.44 L752.94,1203.36 L753.69,1206.29 L754.45,1209.22 L755.19,1212.14 L755.94,1215.07 L756.67,1218.00 L757.41,1220.92 L758.14,1223.85 L758.87,1226.78 L759.59,1229.71 L760.31,1232.64 L761.03,1235.57 L761.74,1238.50 L762.45,1241.43 L763.16,1244.36 L763.86,1247.30 L764.56,1250.23 L765.25,1253.16 L765.94,1256.10 L766.63,1259.03 L767.31,1261.96 L768.00,1264.90 L768.67,1267.83 L769.35,1270.77 L770.02,1273.71 L770.68,1276.64 L771.34,1279.58 L772.00,1282.52 L772.66,1285.46 L773.31,1288.40 L773.96,1291.34 L774.61,1294.28 L775.25,1297.22 L775.89,1300.16 L776.53,1303.10 L777.16,1306.04 L777.79,1308.98 L778.42,1311.92 L779.04,1314.87 L779.66,1317.81 L780.28,1320.76 L780.89,1323.70 L781.50,1326.64 L782.11,1329.59 L782.71,1332.54 L783.31,1335.48 L783.91,1338.43 L784.51,1341.38 L785.10,1344.32 L785.69,1347.27 L786.28,1350.22 L786.86,1353.17 L787.44,1356.12 L788.02,1359.07 L788.59,1362.02 L789.17,1364.97 L789.73,1367.92 L790.30,1370.88 L790.86,1373.83 L791.43,1376.78 L791.98,1379.74 L792.54,1382.69 L793.09,1385.64 L793.64,1388.60 L794.19,1391.55 L794.73,1394.51 L795.27,1397.47 L795.81,1400.42 L796.35,1403.38 L796.88,1406.34 L797.42,1409.30 L797.94,1412.25 L798.47,1415.21 L798.99,1418.17 L799.52,1421.13 L800.03,1424.09 L800.55,1427.05 L801.07,1430.02 L801.58,1432.98 L802.09,1435.94 L802.59,1438.90 L803.10,1441.87 L803.60,1444.83 L804.10,1447.79 L804.60,1450.76 L805.09,1453.72 L805.59,1456.69 L806.08,1459.66 L806.57,1462.62 L807.05,1465.59 L807.54,1468.56 L808.02,1471.52 L808.50,1474.49 L808.98,1477.46 L809.45,1480.43 L809.93,1483.40 L810.40,1486.37 L810.87,1489.34 L811.34,1492.31 L811.80,1495.28 L812.27,1498.25 L812.73,1501.23 L813.19,1504.20 L813.65,1507.17 L814.10,1510.15 L814.56,1513.12 L815.01,1516.10 L815.46,1519.07 L815.91,1522.05 L816.36,1525.02 L816.80,1528.00 L817.24,1530.98 L817.69,1533.95 L818.13,1536.93 L818.56,1539.91 L819.00,1542.89 L819.44,1545.87 L819.87,1548.85 L820.30,1551.83 L820.73,1554.81 L821.16,1557.79 L821.59,1560.77 L822.01,1563.75 L822.44,1566.74 L822.86,1569.72 L823.28,1572.70 L823.70,1575.68 L824.12,1578.67 L824.53,1581.65 L824.95,1584.64 L825.36,1587.62 L825.78,1590.61 L826.19,1593.60 L826.60,1596.58 L827.01,1599.57 L827.41,1602.56 L827.82,1605.55 L828.23,1608.54 L828.63,1611.52 L829.03,1614.51 L829.43,1617.50 L829.83,1620.49 L830.23,1623.49 L830.63,1626.48 L831.03,1629.47 L831.42,1632.46 L831.82,1635.45 L832.21,1638.45 L832.60,1641.44 L833.00,1644.43 L833.39,1647.43 L833.78,1650.42 L834.17,1653.42 L834.55,1656.41 L834.94,1659.41 L835.33,1662.41 L835.71,1665.40 L836.10,1668.40 L836.48,1671.40 L836.86,1674.40 L837.25,1677.40 L837.63,1680.40 L838.01,1683.40 L838.39,1686.40 L838.77,1689.40 L839.14,1692.40 L839.52,1695.40 L839.90,1698.40 L840.28,1701.40 L840.65,1704.41 L841.03,1707.41 L841.40,1710.41 L841.78,1713.42 L842.15,1716.42 L842.52,1719.43 L842.90,1722.43 L843.27,1725.44 L843.64,1728.44 L844.01,1731.45 L844.38,1734.46 L844.75,1737.47 L845.12,1740.47 L845.49,1743.48 L845.86,1746.49 L846.23,1749.50 L846.60,1752.51 L846.97,1755.52 L847.34,1758.53 L847.71,1761.54 L848.08,1764.55 L848.44,1767.56 L848.81,1770.58 L849.18,1773.59 L849.55,1776.60 L849.92,1779.62 L850.28,1782.63 L850.65,1785.64 L851.02,1788.66 L851.39,1791.67 L851.77,1794.69 L852.14,1797.70 L852.52,1800.71 L852.90,1803.72 L853.29,1806.73 L853.67,1809.74 L854.07,1812.75 L854.47,1815.76 L854.87,1818.76 L855.28,1821.77 L855.69,1824.77 L856.12,1827.77 L856.54,1830.77 L856.98,1833.76 L857.42,1836.75 L857.88,1839.75 L858.34,1842.73 L858.81,1845.72 L859.28,1848.70 L859.77,1851.68 L860.27,1854.65 L860.78,1857.62 L861.30,1860.59 L861.84,1863.55 L862.38,1866.51 L862.94,1869.47 L863.51,1872.42 L864.09,1875.36 L864.68,1878.31 L865.29,1881.24 L865.92,1884.17 L866.56,1887.10 L867.21,1890.02 L867.88,1892.94 L868.56,1895.85 L869.26,1898.75 L869.97,1901.65 L870.70,1904.55 L871.44,1907.43 L872.19,1910.31 L872.96,1913.19 L873.74,1916.05 L874.53,1918.91 L875.35,1921.77 L876.18,1924.61 L877.06,1927.45 L877.98,1930.29 L878.95,1933.11 L879.98,1935.93 L881.08,1938.73 L882.26,1941.53 L883.52,1944.33 L884.89,1947.10 L886.35,1949.83 L887.92,1952.50 L889.61,1955.09 L891.41,1957.56 L893.35,1959.91 L895.41,1962.10 L897.61,1964.11 L899.94,1965.93 L902.40,1967.52 L905.01,1968.87 L907.74,1969.96 L910.61,1970.78 L913.61,1971.29 L916.74,1971.35 L920.00,1971.35"/>
<path d="M848.50,1133.30 L849.17,1136.24 L849.83,1139.18 L850.49,1142.12 L851.15,1145.06 L851.80,1148.01 L852.45,1150.95 L853.09,1153.89 L853.73,1156.84 L854.37,1159.78 L855.00,1162.73 L855.63,1165.68 L856.26,1168.62 L856.88,1171.57 L857.50,1174.52 L858.12,1177.47 L858.73,1180.42 L859.34,1183.37 L859.94,1186.32 L860.54,1189.27 L861.14,1192.23 L861.73,1195.18 L862.33,1198.13 L862.91,1201.09 L863.50,1204.04 L864.08,1207.00 L864.65,1209.96 L865.23,1212.91 L865.80,1215.87 L866.36,1218.83 L866.93,1221.79 L867.49,1224.75 L868.04,1227.71 L868.59,1230.67 L869.14,1233.63 L869.69,1236.59 L870.23,1239.55 L870.77,1242.51 L871.31,1245.48 L871.85,1248.44 L872.38,1251.40 L872.90,1254.37 L873.43,1257.34 L873.95,1260.30 L874.47,1263.27 L874.98,1266.24 L875.49,1269.20 L876.00,1272.17 L876.51,1275.14 L877.01,1278.11 L877.51,1281.08 L878.00,1284.05 L878.50,1287.02 L878.99,1289.99 L879.47,1292.96 L879.96,1295.93 L880.44,1298.91 L880.92,1301.88 L881.39,1304.85 L881.87,1307.83 L882.34,1310.80 L882.80,1313.78 L883.27,1316.75 L883.73,1319.73 L884.19,1322.71 L884.64,1325.68 L885.10,1328.66 L885.55,1331.64 L885.99,1334.62 L886.44,1337.60 L886.88,1340.57 L887.32,1343.55 L887.76,1346.53 L888.19,1349.52 L888.62,1352.50 L889.05,1355.48 L889.48,1358.46 L889.90,1361.44 L890.32,1364.42 L890.74,1367.41 L891.15,1370.39 L891.57,1373.37 L891.98,1376.36 L892.39,1379.34 L892.79,1382.33 L893.19,1385.31 L893.59,1388.30 L893.99,1391.28 L894.39,1394.27 L894.78,1397.26 L895.17,1400.25 L895.56,1403.23 L895.95,1406.22 L896.33,1409.21 L896.71,1412.20 L897.09,1415.19 L897.47,1418.18 L897.85,1421.17 L898.22,1424.16 L898.59,1427.15 L898.96,1430.14 L899.32,1433.13 L899.69,1436.12 L900.05,1439.11 L900.41,1442.10 L900.77,1445.09 L901.12,1448.09 L901.47,1451.08 L901.82,1454.07 L902.17,1457.07 L902.52,1460.06 L902.86,1463.05 L903.21,1466.05 L903.55,1469.04 L903.89,1472.04 L904.22,1475.03 L904.56,1478.03 L904.89,1481.02 L905.22,1484.02 L905.55,1487.01 L905.88,1490.01 L906.20,1493.01 L906.53,1496.00 L906.85,1499.00 L907.17,1502.00 L907.49,1505.00 L907.80,1507.99 L908.12,1510.99 L908.43,1513.99 L908.74,1516.99 L909.05,1519.99 L909.36,1522.98 L909.66,1525.98 L909.97,1528.98 L910.27,1531.98 L910.57,1534.98 L910.87,1537.98 L911.17,1540.98 L911.46,1543.98 L911.76,1546.98 L912.05,1549.98 L912.34,1552.98 L912.63,1555.98 L912.92,1558.98 L913.20,1561.99 L913.49,1564.99 L913.77,1567.99 L914.05,1570.99 L914.33,1573.99 L914.61,1576.99 L914.89,1579.99 L915.17,1583.00 L915.44,1586.00 L915.72,1589.00 L915.99,1592.00 L916.26,1595.01 L916.53,1598.01 L916.80,1601.01 L917.07,1604.01 L917.33,1607.02 L917.60,1610.02 L917.86,1613.02 L918.12,1616.03 L918.38,1619.03 L918.64,1622.03 L918.90,1625.04 L919.16,1628.04 L919.41,1631.04 L919.67,1634.05 L919.92,1637.05 L920.18,1640.05 L920.43,1643.06 L920.68,1646.06 L920.93,1649.07 L921.18,1652.07 L921.43,1655.07 L921.67,1658.08 L921.92,1661.08 L922.17,1664.09 L922.41,1667.09 L922.65,1670.09 L922.90,1673.10 L923.14,1676.10 L923.38,1679.11 L923.62,1682.11 L923.86,1685.11 L924.09,1688.12 L924.33,1691.12 L924.57,1694.13 L924.80,1697.13 L925.04,1700.14 L925.27,1703.14 L925.51,1706.14 L925.74,1709.15 L925.97,1712.15 L926.20,1715.16 L926.43,1718.16 L926.66,1721.16 L926.89,1724.17 L927.12,1727.17 L927.35,1730.17 L927.58,1733.18 L927.81,1736.18 L928.03,1739.18 L928.26,1742.19 L928.48,1745.19 L928.71,1748.19 L928.93,1751.20 L929.16,1754.20 L929.38,1757.20 L929.61,1760.21 L929.83,1763.21 L930.05,1766.21 L930.27,1769.21 L930.49,1772.22 L930.72,1775.22 L930.94,1778.22 L931.16,1781.22 L931.38,1784.22 L931.60,1787.23 L931.82,1790.23 L932.04,1793.23 L932.26,1796.23 L932.48,1799.23 L932.70,1802.23 L932.92,1805.23 L933.13,1808.23 L933.35,1811.24 L933.57,1814.24 L933.79,1817.24 L934.02,1820.24 L934.24,1823.24 L934.46,1826.24 L934.69,1829.24 L934.91,1832.24 L935.14,1835.23 L935.37,1838.23 L935.61,1841.23 L935.84,1844.23 L936.08,1847.23 L936.32,1850.23 L936.56,1853.23 L936.81,1856.23 L937.06,1859.22 L937.31,1862.22 L937.56,1865.22 L937.82,1868.22 L938.09,1871.22 L938.36,1874.21 L938.63,1877.21 L938.90,1880.21 L939.19,1883.21 L939.47,1886.20 L939.76,1889.20 L940.06,1892.20 L940.36,1895.19 L940.67,1898.19 L940.98,1901.19 L941.30,1904.18 L941.63,1907.18 L941.96,1910.18 L942.31,1913.17 L942.66,1916.17 L943.04,1919.16 L943.43,1922.16 L943.85,1925.15 L944.29,1928.15 L944.76,1931.14 L945.26,1934.14 L945.80,1937.13 L946.37,1940.13 L946.99,1943.12 L947.64,1946.12 L948.35,1949.11 L949.15,1952.06 L950.07,1954.94 L951.14,1957.72 L952.41,1960.37 L953.92,1962.85 L955.68,1965.14 L957.75,1967.20 L960.14,1968.98 L962.80,1970.40 L965.68,1971.35 L968.71,1971.35 L971.84,1971.35 L975.00,1971.35"/>
<path d="M913.60,1133.30 L914.31,1137.27 L915.02,1141.23 L915.72,1145.20 L916.42,1149.17 L917.12,1153.13 L917.81,1157.10 L918.50,1161.07 L919.18,1165.04 L919.86,1169.01 L920.54,1172.98 L921.21,1176.96 L921.87,1180.93 L922.54,1184.90 L923.19,1188.88 L923.84,1192.85 L924.49,1196.83 L925.13,1200.80 L925.77,1204.78 L926.40,1208.76 L927.03,1212.74 L927.66,1216.71 L928.29,1220.69 L928.91,1224.67 L929.53,1228.65 L930.15,1232.64 L930.76,1236.62 L931.37,1240.60 L931.98,1244.58 L932.58,1248.57 L933.19,1252.55 L933.78,1256.53 L934.37,1260.52 L934.96,1264.50 L935.55,1268.49 L936.13,1272.48 L936.70,1276.46 L937.27,1280.45 L937.84,1284.44 L938.40,1288.43 L938.96,1292.42 L939.51,1296.41 L940.05,1300.40 L940.60,1304.39 L941.14,1308.38 L941.67,1312.37 L942.21,1316.36 L942.74,1320.36 L943.26,1324.35 L943.79,1328.35 L944.31,1332.34 L944.83,1336.34 L945.34,1340.33 L945.85,1344.33 L946.35,1348.32 L946.86,1352.32 L947.35,1356.32 L947.85,1360.32 L948.34,1364.32 L948.82,1368.32 L949.30,1372.32 L949.78,1376.32 L950.25,1380.32 L950.72,1384.32 L951.18,1388.32 L951.64,1392.32 L952.09,1396.32 L952.54,1400.33 L952.98,1404.33 L953.42,1408.33 L953.86,1412.34 L954.29,1416.34 L954.73,1420.35 L955.15,1424.35 L955.58,1428.36 L956.00,1432.36 L956.42,1436.37 L956.84,1440.38 L957.25,1444.39 L957.66,1448.40 L958.06,1452.40 L958.46,1456.41 L958.85,1460.42 L959.24,1464.43 L959.63,1468.44 L960.01,1472.45 L960.39,1476.46 L960.76,1480.47 L961.13,1484.49 L961.49,1488.50 L961.85,1492.51 L962.20,1496.52 L962.55,1500.53 L962.89,1504.55 L963.22,1508.56 L963.55,1512.57 L963.88,1516.59 L964.20,1520.60 L964.51,1524.62 L964.83,1528.64 L965.14,1532.65 L965.44,1536.67 L965.74,1540.69 L966.04,1544.70 L966.34,1548.72 L966.63,1552.74 L966.93,1556.76 L967.22,1560.78 L967.50,1564.79 L967.79,1568.81 L968.08,1572.83 L968.36,1576.85 L968.65,1580.87 L968.93,1584.89 L969.21,1588.90 L969.50,1592.92 L969.78,1596.94 L970.07,1600.96 L970.35,1604.98 L970.64,1609.00 L970.93,1613.01 L971.22,1617.03 L971.50,1621.05 L971.79,1625.07 L972.08,1629.09 L972.36,1633.10 L972.65,1637.12 L972.93,1641.14 L973.21,1645.16 L973.49,1649.18 L973.77,1653.20 L974.04,1657.22 L974.31,1661.24 L974.58,1665.26 L974.85,1669.28 L975.11,1673.29 L975.37,1677.31 L975.62,1681.33 L975.88,1685.35 L976.12,1689.38 L976.36,1693.40 L976.60,1697.42 L976.83,1701.44 L977.06,1705.46 L977.28,1709.48 L977.50,1713.50 L977.72,1717.53 L977.93,1721.55 L978.14,1725.57 L978.35,1729.59 L978.55,1733.62 L978.76,1737.64 L978.96,1741.66 L979.16,1745.69 L979.35,1749.71 L979.55,1753.73 L979.74,1757.76 L979.93,1761.78 L980.12,1765.81 L980.32,1769.83 L980.51,1773.85 L980.70,1777.88 L980.89,1781.90 L981.08,1785.92 L981.27,1789.95 L981.46,1793.97 L981.65,1798.00 L981.85,1802.02 L982.03,1806.04 L982.22,1810.07 L982.39,1814.09 L982.57,1818.12 L982.74,1822.14 L982.90,1826.17 L983.07,1830.19 L983.24,1834.22 L983.41,1838.24 L983.58,1842.27 L983.75,1846.29 L983.93,1850.32 L984.12,1854.34 L984.31,1858.37 L984.50,1862.39 L984.71,1866.41 L984.92,1870.43 L985.14,1874.46 L985.38,1878.48 L985.64,1882.49 L985.96,1886.51 L986.25,1890.53 L986.48,1894.55 L986.68,1898.57 L986.86,1902.60 L987.04,1906.62 L987.23,1910.65 L987.45,1914.67 L987.70,1918.69 L987.97,1922.71 L988.27,1926.73 L988.59,1930.75 L988.94,1934.76 L989.32,1938.77 L989.74,1942.77 L990.20,1946.79 L990.73,1950.80 L991.37,1954.78 L992.15,1958.70 L993.24,1962.69 L994.79,1966.36 L997.33,1969.67 L1000.77,1970.97 L1005.00,1971.35"/>
<path d="M952.40,1133.30 L953.19,1137.25 L953.97,1141.20 L954.75,1145.16 L955.52,1149.11 L956.28,1153.07 L957.02,1157.03 L957.76,1160.98 L958.48,1164.95 L959.20,1168.91 L959.89,1172.87 L960.58,1176.84 L961.25,1180.81 L961.90,1184.78 L962.54,1188.75 L963.16,1192.72 L963.76,1196.70 L964.35,1200.68 L964.92,1204.66 L965.47,1208.64 L966.01,1212.63 L966.54,1216.62 L967.06,1220.61 L967.57,1224.60 L968.07,1228.59 L968.56,1232.59 L969.04,1236.58 L969.52,1240.58 L969.99,1244.58 L970.45,1248.58 L970.91,1252.58 L971.36,1256.58 L971.81,1260.58 L972.26,1264.59 L972.71,1268.59 L973.15,1272.59 L973.60,1276.59 L974.05,1280.60 L974.49,1284.60 L974.95,1288.60 L975.40,1292.60 L975.86,1296.60 L976.32,1300.60 L976.79,1304.60 L977.25,1308.60 L977.73,1312.59 L978.20,1316.59 L978.67,1320.59 L979.15,1324.59 L979.62,1328.59 L980.09,1332.58 L980.57,1336.58 L981.04,1340.58 L981.51,1344.58 L981.97,1348.58 L982.43,1352.58 L982.89,1356.58 L983.35,1360.58 L983.80,1364.58 L984.25,1368.58 L984.69,1372.58 L985.12,1376.58 L985.54,1380.58 L985.96,1384.59 L986.38,1388.59 L986.78,1392.59 L987.17,1396.60 L987.56,1400.60 L987.93,1404.61 L988.31,1408.62 L988.67,1412.63 L989.03,1416.63 L989.39,1420.64 L989.74,1424.65 L990.08,1428.66 L990.42,1432.67 L990.76,1436.69 L991.09,1440.70 L991.42,1444.71 L991.75,1448.72 L992.07,1452.74 L992.39,1456.75 L992.71,1460.76 L993.02,1464.78 L993.34,1468.79 L993.65,1472.80 L993.96,1476.82 L994.27,1480.83 L994.58,1484.84 L994.89,1488.86 L995.20,1492.87 L995.51,1496.89 L995.82,1500.90 L996.13,1504.91 L996.44,1508.93 L996.75,1512.94 L997.05,1516.95 L997.36,1520.97 L997.67,1524.98 L997.97,1528.99 L998.27,1533.01 L998.58,1537.02 L998.88,1541.04 L999.17,1545.05 L999.47,1549.07 L999.76,1553.08 L1000.06,1557.10 L1000.35,1561.11 L1000.63,1565.13 L1000.92,1569.14 L1001.20,1573.16 L1001.48,1577.17 L1001.75,1581.19 L1002.03,1585.20 L1002.30,1589.22 L1002.56,1593.24 L1002.82,1597.25 L1003.08,1601.27 L1003.34,1605.29 L1003.59,1609.30 L1003.85,1613.32 L1004.10,1617.34 L1004.35,1621.36 L1004.60,1625.37 L1004.85,1629.39 L1005.10,1633.41 L1005.34,1637.43 L1005.58,1641.45 L1005.82,1645.47 L1006.06,1649.48 L1006.29,1653.50 L1006.52,1657.52 L1006.75,1661.54 L1006.97,1665.56 L1007.20,1669.58 L1007.41,1673.60 L1007.63,1677.62 L1007.84,1681.64 L1008.05,1685.66 L1008.25,1689.68 L1008.45,1693.70 L1008.64,1697.72 L1008.83,1701.74 L1009.02,1705.76 L1009.20,1709.78 L1009.38,1713.80 L1009.56,1717.82 L1009.74,1721.85 L1009.91,1725.87 L1010.08,1729.89 L1010.25,1733.91 L1010.42,1737.93 L1010.58,1741.96 L1010.74,1745.98 L1010.90,1750.00 L1011.06,1754.02 L1011.22,1758.04 L1011.37,1762.07 L1011.53,1766.09 L1011.68,1770.11 L1011.82,1774.14 L1011.97,1778.16 L1012.12,1782.18 L1012.26,1786.20 L1012.41,1790.23 L1012.55,1794.25 L1012.69,1798.27 L1012.83,1802.30 L1012.97,1806.32 L1013.11,1810.34 L1013.24,1814.36 L1013.38,1818.39 L1013.51,1822.41 L1013.64,1826.43 L1013.77,1830.46 L1013.90,1834.48 L1014.02,1838.50 L1014.15,1842.53 L1014.27,1846.55 L1014.40,1850.57 L1014.52,1854.60 L1014.63,1858.62 L1014.75,1862.65 L1014.87,1866.67 L1014.98,1870.69 L1015.09,1874.72 L1015.20,1878.74 L1015.31,1882.76 L1015.41,1886.79 L1015.51,1890.81 L1015.60,1894.84 L1015.69,1898.86 L1015.77,1902.89 L1015.85,1906.91 L1015.94,1910.94 L1016.03,1914.96 L1016.13,1918.98 L1016.25,1923.01 L1016.38,1927.03 L1016.51,1931.06 L1016.67,1935.09 L1016.84,1939.11 L1017.04,1943.13 L1017.28,1947.15 L1017.55,1951.16 L1017.88,1955.23 L1018.35,1959.31 L1019.00,1963.26 L1020.04,1967.11 L1022.38,1970.43 L1026.25,1971.35"/>
<path d="M977.60,1133.30 L978.23,1137.28 L978.85,1141.26 L979.47,1145.25 L980.09,1149.23 L980.70,1153.21 L981.31,1157.20 L981.91,1161.18 L982.51,1165.17 L983.10,1169.15 L983.69,1173.14 L984.27,1177.12 L984.85,1181.11 L985.42,1185.10 L985.99,1189.09 L986.55,1193.08 L987.10,1197.07 L987.65,1201.06 L988.19,1205.06 L988.73,1209.05 L989.27,1213.04 L989.81,1217.03 L990.34,1221.03 L990.88,1225.02 L991.41,1229.02 L991.93,1233.02 L992.46,1237.01 L992.98,1241.01 L993.49,1245.01 L994.00,1249.00 L994.51,1253.00 L995.01,1257.00 L995.50,1261.00 L995.99,1265.00 L996.48,1269.00 L996.96,1273.00 L997.43,1277.01 L997.89,1281.01 L998.35,1285.01 L998.80,1289.01 L999.25,1293.02 L999.68,1297.02 L1000.11,1301.03 L1000.53,1305.04 L1000.94,1309.04 L1001.34,1313.05 L1001.74,1317.06 L1002.13,1321.07 L1002.51,1325.08 L1002.89,1329.09 L1003.26,1333.11 L1003.63,1337.12 L1003.99,1341.13 L1004.35,1345.15 L1004.71,1349.16 L1005.06,1353.17 L1005.42,1357.19 L1005.77,1361.20 L1006.12,1365.22 L1006.48,1369.23 L1006.83,1373.25 L1007.19,1377.26 L1007.54,1381.28 L1007.90,1385.29 L1008.26,1389.31 L1008.63,1393.32 L1009.00,1397.33 L1009.38,1401.34 L1009.76,1405.35 L1010.15,1409.37 L1010.54,1413.38 L1010.95,1417.39 L1011.35,1421.40 L1011.76,1425.41 L1012.17,1429.42 L1012.58,1433.43 L1012.99,1437.44 L1013.40,1441.45 L1013.81,1445.46 L1014.22,1449.47 L1014.63,1453.48 L1015.03,1457.49 L1015.42,1461.50 L1015.81,1465.51 L1016.19,1469.52 L1016.56,1473.53 L1016.93,1477.54 L1017.28,1481.56 L1017.62,1485.57 L1017.95,1489.59 L1018.27,1493.60 L1018.58,1497.62 L1018.87,1501.63 L1019.15,1505.65 L1019.42,1509.67 L1019.68,1513.69 L1019.94,1517.71 L1020.19,1521.73 L1020.44,1525.75 L1020.68,1529.78 L1020.91,1533.80 L1021.14,1537.82 L1021.37,1541.85 L1021.59,1545.87 L1021.81,1549.89 L1022.03,1553.92 L1022.24,1557.94 L1022.46,1561.97 L1022.67,1565.99 L1022.88,1570.02 L1023.10,1574.04 L1023.31,1578.07 L1023.52,1582.09 L1023.74,1586.12 L1023.96,1590.14 L1024.18,1594.16 L1024.40,1598.19 L1024.63,1602.21 L1024.86,1606.23 L1025.09,1610.26 L1025.33,1614.28 L1025.57,1618.30 L1025.81,1622.33 L1026.05,1626.35 L1026.29,1630.37 L1026.54,1634.40 L1026.78,1638.42 L1027.02,1642.44 L1027.26,1646.46 L1027.50,1650.49 L1027.73,1654.51 L1027.96,1658.53 L1028.19,1662.56 L1028.41,1666.58 L1028.63,1670.60 L1028.84,1674.63 L1029.04,1678.65 L1029.24,1682.68 L1029.43,1686.70 L1029.61,1690.73 L1029.79,1694.75 L1029.95,1698.78 L1030.11,1702.80 L1030.26,1706.83 L1030.40,1710.85 L1030.55,1714.88 L1030.69,1718.91 L1030.82,1722.94 L1030.95,1726.96 L1031.08,1730.99 L1031.20,1735.02 L1031.33,1739.05 L1031.45,1743.07 L1031.56,1747.10 L1031.68,1751.13 L1031.79,1755.16 L1031.90,1759.19 L1032.01,1763.22 L1032.12,1767.24 L1032.23,1771.27 L1032.34,1775.30 L1032.45,1779.33 L1032.55,1783.36 L1032.66,1787.39 L1032.77,1791.41 L1032.88,1795.44 L1032.99,1799.47 L1033.10,1803.50 L1033.21,1807.53 L1033.33,1811.56 L1033.45,1815.58 L1033.58,1819.61 L1033.70,1823.64 L1033.82,1827.67 L1033.95,1831.70 L1034.07,1835.72 L1034.18,1839.75 L1034.30,1843.78 L1034.41,1847.81 L1034.51,1851.84 L1034.61,1855.87 L1034.70,1859.89 L1034.78,1863.92 L1034.85,1867.95 L1034.91,1871.98 L1034.96,1876.01 L1035.00,1880.04 L1035.02,1884.07 L1035.04,1888.10 L1035.06,1892.13 L1035.07,1896.16 L1035.10,1900.19 L1035.13,1904.22 L1035.19,1908.25 L1035.25,1912.27 L1035.32,1916.30 L1035.41,1920.33 L1035.50,1924.36 L1035.59,1928.39 L1035.69,1932.42 L1035.79,1936.45 L1035.88,1940.48 L1035.97,1944.52 L1036.06,1948.57 L1036.17,1952.61 L1036.32,1956.64 L1036.52,1960.64 L1036.79,1964.68 L1037.54,1969.08 L1040.00,1971.35"/>
<path d="M996.80,1133.30 L997.25,1137.30 L997.70,1141.29 L998.16,1145.29 L998.61,1149.28 L999.06,1153.28 L999.51,1157.28 L999.95,1161.27 L1000.40,1165.27 L1000.85,1169.27 L1001.29,1173.26 L1001.74,1177.26 L1002.18,1181.26 L1002.62,1185.25 L1003.07,1189.25 L1003.51,1193.25 L1003.95,1197.24 L1004.39,1201.24 L1004.82,1205.24 L1005.26,1209.24 L1005.69,1213.23 L1006.13,1217.23 L1006.56,1221.23 L1006.99,1225.23 L1007.42,1229.23 L1007.85,1233.22 L1008.28,1237.22 L1008.71,1241.22 L1009.14,1245.22 L1009.57,1249.22 L1010.00,1253.22 L1010.42,1257.21 L1010.85,1261.21 L1011.28,1265.21 L1011.70,1269.21 L1012.13,1273.21 L1012.56,1277.21 L1012.99,1281.21 L1013.41,1285.20 L1013.84,1289.20 L1014.27,1293.20 L1014.70,1297.20 L1015.13,1301.20 L1015.56,1305.20 L1016.00,1309.19 L1016.44,1313.19 L1016.89,1317.19 L1017.33,1321.19 L1017.78,1325.18 L1018.23,1329.18 L1018.68,1333.18 L1019.13,1337.17 L1019.58,1341.17 L1020.03,1345.17 L1020.48,1349.16 L1020.92,1353.16 L1021.37,1357.16 L1021.80,1361.15 L1022.24,1365.15 L1022.67,1369.15 L1023.09,1373.15 L1023.51,1377.15 L1023.92,1381.15 L1024.32,1385.15 L1024.72,1389.15 L1025.11,1393.15 L1025.49,1397.15 L1025.86,1401.16 L1026.22,1405.16 L1026.58,1409.17 L1026.94,1413.17 L1027.30,1417.18 L1027.65,1421.18 L1028.00,1425.19 L1028.35,1429.19 L1028.69,1433.20 L1029.03,1437.21 L1029.36,1441.22 L1029.69,1445.23 L1030.02,1449.23 L1030.34,1453.24 L1030.66,1457.25 L1030.97,1461.26 L1031.28,1465.27 L1031.59,1469.28 L1031.89,1473.29 L1032.18,1477.30 L1032.47,1481.32 L1032.76,1485.33 L1033.03,1489.34 L1033.31,1493.35 L1033.58,1497.36 L1033.84,1501.37 L1034.10,1505.39 L1034.35,1509.40 L1034.59,1513.41 L1034.83,1517.42 L1035.07,1521.44 L1035.30,1525.45 L1035.53,1529.47 L1035.75,1533.48 L1035.97,1537.50 L1036.19,1541.51 L1036.41,1545.53 L1036.62,1549.55 L1036.83,1553.56 L1037.04,1557.58 L1037.25,1561.59 L1037.46,1565.61 L1037.66,1569.63 L1037.87,1573.64 L1038.08,1577.66 L1038.29,1581.68 L1038.49,1585.69 L1038.70,1589.71 L1038.92,1593.72 L1039.13,1597.74 L1039.34,1601.76 L1039.56,1605.77 L1039.79,1609.79 L1040.01,1613.80 L1040.24,1617.82 L1040.47,1621.83 L1040.70,1625.85 L1040.93,1629.86 L1041.16,1633.88 L1041.38,1637.89 L1041.61,1641.91 L1041.84,1645.92 L1042.07,1649.94 L1042.29,1653.95 L1042.51,1657.97 L1042.72,1661.99 L1042.94,1666.00 L1043.14,1670.02 L1043.35,1674.03 L1043.54,1678.05 L1043.73,1682.07 L1043.92,1686.08 L1044.10,1690.10 L1044.27,1694.12 L1044.43,1698.13 L1044.58,1702.15 L1044.73,1706.17 L1044.88,1710.19 L1045.02,1714.21 L1045.16,1718.23 L1045.30,1722.24 L1045.43,1726.26 L1045.56,1730.28 L1045.69,1734.30 L1045.81,1738.32 L1045.94,1742.34 L1046.06,1746.36 L1046.18,1750.38 L1046.29,1754.40 L1046.41,1758.42 L1046.52,1762.44 L1046.63,1766.46 L1046.74,1770.48 L1046.84,1774.50 L1046.95,1778.52 L1047.06,1782.54 L1047.16,1786.56 L1047.26,1790.58 L1047.36,1794.60 L1047.47,1798.62 L1047.57,1802.64 L1047.67,1806.66 L1047.78,1810.68 L1047.89,1814.70 L1048.00,1818.72 L1048.12,1822.74 L1048.23,1826.76 L1048.34,1830.78 L1048.45,1834.80 L1048.55,1838.82 L1048.65,1842.84 L1048.75,1846.86 L1048.84,1850.88 L1048.92,1854.90 L1049.00,1858.93 L1049.07,1862.95 L1049.13,1866.97 L1049.18,1870.99 L1049.22,1875.01 L1049.24,1879.03 L1049.26,1883.05 L1049.27,1887.07 L1049.28,1891.09 L1049.29,1895.11 L1049.30,1899.14 L1049.31,1903.16 L1049.31,1907.18 L1049.32,1911.20 L1049.33,1915.22 L1049.33,1919.24 L1049.34,1923.26 L1049.34,1927.28 L1049.35,1931.31 L1049.36,1935.33 L1049.37,1939.35 L1049.38,1943.37 L1049.39,1947.39 L1049.41,1951.42 L1049.43,1955.47 L1049.46,1959.52 L1049.51,1963.54 L1049.60,1967.50 L1050.75,1971.35"/>
<path d="M1009.60,1133.30 L1010.17,1137.28 L1010.74,1141.26 L1011.31,1145.24 L1011.86,1149.23 L1012.41,1153.21 L1012.96,1157.19 L1013.50,1161.18 L1014.03,1165.17 L1014.55,1169.15 L1015.06,1173.14 L1015.56,1177.13 L1016.06,1181.12 L1016.54,1185.11 L1017.01,1189.10 L1017.48,1193.09 L1017.93,1197.08 L1018.37,1201.08 L1018.80,1205.07 L1019.21,1209.07 L1019.62,1213.07 L1020.02,1217.07 L1020.42,1221.07 L1020.80,1225.07 L1021.18,1229.07 L1021.56,1233.07 L1021.92,1237.08 L1022.29,1241.08 L1022.65,1245.09 L1023.00,1249.09 L1023.36,1253.10 L1023.71,1257.10 L1024.06,1261.11 L1024.41,1265.12 L1024.75,1269.12 L1025.10,1273.13 L1025.45,1277.13 L1025.80,1281.14 L1026.16,1285.14 L1026.51,1289.15 L1026.87,1293.15 L1027.24,1297.16 L1027.61,1301.16 L1027.98,1305.16 L1028.35,1309.17 L1028.72,1313.17 L1029.09,1317.17 L1029.45,1321.18 L1029.82,1325.18 L1030.19,1329.18 L1030.56,1333.19 L1030.93,1337.19 L1031.30,1341.19 L1031.67,1345.20 L1032.04,1349.20 L1032.41,1353.20 L1032.77,1357.21 L1033.14,1361.21 L1033.51,1365.21 L1033.88,1369.22 L1034.26,1373.22 L1034.63,1377.22 L1035.00,1381.23 L1035.37,1385.23 L1035.74,1389.23 L1036.12,1393.23 L1036.49,1397.24 L1036.87,1401.24 L1037.25,1405.24 L1037.64,1409.24 L1038.05,1413.25 L1038.46,1417.25 L1038.87,1421.25 L1039.29,1425.25 L1039.72,1429.25 L1040.14,1433.25 L1040.57,1437.25 L1040.99,1441.25 L1041.41,1445.25 L1041.83,1449.25 L1042.24,1453.25 L1042.65,1457.25 L1043.05,1461.25 L1043.44,1465.25 L1043.82,1469.25 L1044.19,1473.26 L1044.55,1477.26 L1044.89,1481.26 L1045.21,1485.27 L1045.52,1489.28 L1045.81,1493.28 L1046.08,1497.29 L1046.33,1501.30 L1046.57,1505.31 L1046.79,1509.32 L1047.01,1513.33 L1047.22,1517.35 L1047.42,1521.36 L1047.61,1525.37 L1047.80,1529.39 L1047.98,1533.41 L1048.16,1537.42 L1048.33,1541.44 L1048.50,1545.46 L1048.66,1549.47 L1048.83,1553.49 L1048.99,1557.51 L1049.15,1561.53 L1049.31,1565.55 L1049.47,1569.57 L1049.63,1573.58 L1049.79,1577.60 L1049.95,1581.62 L1050.12,1585.64 L1050.29,1589.66 L1050.46,1593.67 L1050.64,1597.69 L1050.83,1601.71 L1051.02,1605.72 L1051.21,1609.74 L1051.40,1613.75 L1051.60,1617.77 L1051.80,1621.78 L1052.00,1625.80 L1052.20,1629.82 L1052.41,1633.83 L1052.61,1637.85 L1052.81,1641.86 L1053.01,1645.88 L1053.21,1649.89 L1053.42,1653.91 L1053.61,1657.92 L1053.81,1661.94 L1054.00,1665.95 L1054.20,1669.97 L1054.38,1673.99 L1054.57,1678.00 L1054.75,1682.02 L1054.93,1686.03 L1055.10,1690.05 L1055.26,1694.07 L1055.43,1698.08 L1055.58,1702.10 L1055.74,1706.12 L1055.90,1710.13 L1056.05,1714.15 L1056.21,1718.17 L1056.37,1722.19 L1056.53,1726.20 L1056.69,1730.22 L1056.84,1734.24 L1057.00,1738.26 L1057.15,1742.28 L1057.30,1746.29 L1057.44,1750.31 L1057.58,1754.33 L1057.72,1758.35 L1057.85,1762.37 L1057.97,1766.39 L1058.09,1770.40 L1058.21,1774.42 L1058.31,1778.44 L1058.41,1782.46 L1058.51,1786.48 L1058.59,1790.50 L1058.66,1794.52 L1058.73,1798.54 L1058.79,1802.56 L1058.84,1806.58 L1058.88,1810.59 L1058.92,1814.61 L1058.96,1818.63 L1058.99,1822.65 L1059.02,1826.67 L1059.05,1830.70 L1059.08,1834.72 L1059.11,1838.74 L1059.13,1842.76 L1059.16,1846.78 L1059.19,1850.80 L1059.22,1854.82 L1059.25,1858.84 L1059.29,1862.86 L1059.33,1866.88 L1059.37,1870.90 L1059.42,1874.92 L1059.48,1878.94 L1059.55,1882.96 L1059.67,1886.98 L1059.80,1891.00 L1059.92,1895.01 L1059.99,1899.03 L1060.00,1903.05 L1060.00,1907.07 L1060.00,1911.09 L1060.00,1915.11 L1060.00,1919.13 L1060.00,1923.16 L1060.00,1927.18 L1060.00,1931.20 L1060.00,1935.22 L1059.99,1939.24 L1059.95,1943.26 L1059.87,1947.28 L1059.76,1951.30 L1059.62,1955.32 L1059.45,1959.34 L1059.25,1963.35 L1059.00,1967.36 L1058.50,1971.35"/>
<path d="M1018.60,1133.30 L1019.10,1137.29 L1019.59,1141.28 L1020.09,1145.27 L1020.59,1149.26 L1021.09,1153.25 L1021.59,1157.24 L1022.09,1161.23 L1022.59,1165.22 L1023.09,1169.21 L1023.60,1173.20 L1024.10,1177.19 L1024.61,1181.18 L1025.11,1185.17 L1025.62,1189.16 L1026.13,1193.14 L1026.63,1197.13 L1027.14,1201.12 L1027.66,1205.11 L1028.19,1209.10 L1028.73,1213.08 L1029.27,1217.07 L1029.82,1221.05 L1030.37,1225.04 L1030.93,1229.02 L1031.48,1233.01 L1032.04,1236.99 L1032.60,1240.98 L1033.16,1244.96 L1033.71,1248.94 L1034.26,1252.93 L1034.81,1256.91 L1035.35,1260.90 L1035.88,1264.89 L1036.40,1268.87 L1036.91,1272.86 L1037.41,1276.85 L1037.89,1280.84 L1038.36,1284.83 L1038.82,1288.83 L1039.26,1292.82 L1039.68,1296.82 L1040.08,1300.81 L1040.47,1304.81 L1040.85,1308.81 L1041.22,1312.81 L1041.59,1316.82 L1041.95,1320.82 L1042.30,1324.82 L1042.64,1328.83 L1042.98,1332.84 L1043.31,1336.85 L1043.64,1340.85 L1043.96,1344.86 L1044.27,1348.87 L1044.58,1352.88 L1044.89,1356.89 L1045.19,1360.91 L1045.49,1364.92 L1045.79,1368.93 L1046.08,1372.94 L1046.37,1376.95 L1046.66,1380.96 L1046.94,1384.98 L1047.23,1388.99 L1047.51,1393.00 L1047.79,1397.01 L1048.07,1401.02 L1048.35,1405.03 L1048.62,1409.04 L1048.90,1413.06 L1049.16,1417.07 L1049.43,1421.08 L1049.69,1425.09 L1049.95,1429.11 L1050.20,1433.12 L1050.46,1437.13 L1050.71,1441.14 L1050.96,1445.16 L1051.20,1449.17 L1051.45,1453.19 L1051.69,1457.20 L1051.93,1461.21 L1052.18,1465.23 L1052.42,1469.24 L1052.66,1473.26 L1052.90,1477.27 L1053.13,1481.28 L1053.37,1485.30 L1053.61,1489.31 L1053.85,1493.33 L1054.09,1497.34 L1054.33,1501.35 L1054.57,1505.37 L1054.81,1509.38 L1055.05,1513.40 L1055.29,1517.41 L1055.52,1521.42 L1055.76,1525.44 L1055.99,1529.45 L1056.23,1533.47 L1056.46,1537.48 L1056.70,1541.50 L1056.93,1545.51 L1057.16,1549.52 L1057.39,1553.54 L1057.62,1557.55 L1057.85,1561.57 L1058.08,1565.58 L1058.31,1569.60 L1058.53,1573.61 L1058.76,1577.63 L1058.98,1581.64 L1059.21,1585.66 L1059.43,1589.67 L1059.65,1593.69 L1059.87,1597.70 L1060.09,1601.72 L1060.32,1605.73 L1060.55,1609.75 L1060.78,1613.76 L1061.02,1617.78 L1061.25,1621.79 L1061.49,1625.80 L1061.73,1629.82 L1061.97,1633.83 L1062.21,1637.85 L1062.45,1641.86 L1062.68,1645.88 L1062.91,1649.89 L1063.14,1653.91 L1063.36,1657.92 L1063.58,1661.94 L1063.79,1665.96 L1064.00,1669.97 L1064.20,1673.99 L1064.39,1678.00 L1064.57,1682.02 L1064.74,1686.04 L1064.90,1690.05 L1065.05,1694.07 L1065.19,1698.09 L1065.32,1702.11 L1065.44,1706.12 L1065.56,1710.14 L1065.67,1714.16 L1065.78,1718.18 L1065.89,1722.20 L1065.99,1726.22 L1066.09,1730.24 L1066.19,1734.26 L1066.28,1738.28 L1066.37,1742.30 L1066.46,1746.32 L1066.55,1750.34 L1066.63,1754.36 L1066.71,1758.38 L1066.80,1762.40 L1066.87,1766.42 L1066.95,1770.44 L1067.03,1774.46 L1067.10,1778.49 L1067.18,1782.51 L1067.25,1786.53 L1067.33,1790.55 L1067.40,1794.57 L1067.47,1798.59 L1067.55,1802.61 L1067.62,1806.63 L1067.69,1810.65 L1067.77,1814.67 L1067.84,1818.69 L1067.91,1822.71 L1067.98,1826.73 L1068.05,1830.75 L1068.12,1834.77 L1068.19,1838.79 L1068.26,1842.81 L1068.32,1846.83 L1068.38,1850.86 L1068.44,1854.88 L1068.50,1858.90 L1068.55,1862.92 L1068.60,1866.94 L1068.65,1870.96 L1068.69,1874.98 L1068.74,1879.00 L1068.77,1883.02 L1068.81,1887.04 L1068.84,1891.06 L1068.86,1895.08 L1068.89,1899.11 L1068.92,1903.13 L1068.95,1907.15 L1068.99,1911.17 L1069.02,1915.19 L1069.05,1919.21 L1069.08,1923.23 L1069.09,1927.25 L1069.10,1931.27 L1069.07,1935.30 L1068.99,1939.32 L1068.87,1943.35 L1068.70,1947.37 L1068.51,1951.39 L1068.28,1955.40 L1068.02,1959.41 L1067.69,1963.40 L1067.10,1967.38 L1066.40,1971.35"/>
<path d="M1028.60,1133.30 L1029.04,1137.30 L1029.49,1141.30 L1029.94,1145.30 L1030.38,1149.30 L1030.83,1153.30 L1031.29,1157.30 L1031.74,1161.30 L1032.20,1165.30 L1032.66,1169.30 L1033.12,1173.30 L1033.58,1177.30 L1034.04,1181.29 L1034.51,1185.29 L1034.98,1189.29 L1035.45,1193.29 L1035.93,1197.28 L1036.40,1201.28 L1036.89,1205.27 L1037.39,1209.27 L1037.89,1213.26 L1038.41,1217.26 L1038.93,1221.25 L1039.46,1225.24 L1039.99,1229.23 L1040.52,1233.22 L1041.06,1237.21 L1041.59,1241.20 L1042.13,1245.20 L1042.66,1249.19 L1043.19,1253.18 L1043.72,1257.17 L1044.24,1261.16 L1044.76,1265.15 L1045.26,1269.15 L1045.76,1273.14 L1046.24,1277.14 L1046.72,1281.13 L1047.18,1285.13 L1047.62,1289.13 L1048.05,1293.13 L1048.46,1297.13 L1048.86,1301.13 L1049.25,1305.13 L1049.62,1309.14 L1050.00,1313.15 L1050.36,1317.15 L1050.72,1321.16 L1051.07,1325.17 L1051.42,1329.18 L1051.76,1333.19 L1052.10,1337.20 L1052.43,1341.21 L1052.75,1345.23 L1053.07,1349.24 L1053.39,1353.25 L1053.70,1357.27 L1054.00,1361.28 L1054.31,1365.30 L1054.60,1369.31 L1054.90,1373.33 L1055.18,1377.35 L1055.47,1381.36 L1055.75,1385.38 L1056.03,1389.39 L1056.31,1393.41 L1056.58,1397.42 L1056.85,1401.44 L1057.11,1405.45 L1057.37,1409.47 L1057.62,1413.49 L1057.87,1417.50 L1058.12,1421.52 L1058.36,1425.54 L1058.60,1429.56 L1058.83,1433.58 L1059.06,1437.59 L1059.29,1441.61 L1059.52,1445.63 L1059.74,1449.65 L1059.96,1453.67 L1060.18,1457.69 L1060.40,1461.71 L1060.62,1465.73 L1060.84,1469.75 L1061.06,1473.77 L1061.28,1477.79 L1061.49,1481.81 L1061.71,1485.82 L1061.94,1489.84 L1062.16,1493.86 L1062.38,1497.88 L1062.61,1501.90 L1062.83,1505.92 L1063.06,1509.94 L1063.28,1513.96 L1063.50,1517.98 L1063.72,1521.99 L1063.94,1526.01 L1064.16,1530.03 L1064.38,1534.05 L1064.60,1538.07 L1064.82,1542.09 L1065.04,1546.11 L1065.26,1550.13 L1065.48,1554.15 L1065.69,1558.17 L1065.91,1562.19 L1066.13,1566.20 L1066.35,1570.22 L1066.57,1574.24 L1066.79,1578.26 L1067.01,1582.28 L1067.24,1586.30 L1067.46,1590.32 L1067.68,1594.34 L1067.91,1598.36 L1068.14,1602.37 L1068.37,1606.39 L1068.61,1610.41 L1068.87,1614.43 L1069.12,1618.45 L1069.38,1622.46 L1069.65,1626.48 L1069.91,1630.50 L1070.18,1634.52 L1070.45,1638.53 L1070.72,1642.55 L1070.98,1646.57 L1071.24,1650.59 L1071.50,1654.60 L1071.75,1658.62 L1072.00,1662.64 L1072.24,1666.66 L1072.46,1670.68 L1072.68,1674.70 L1072.89,1678.71 L1073.08,1682.73 L1073.26,1686.75 L1073.43,1690.77 L1073.58,1694.79 L1073.71,1698.81 L1073.83,1702.84 L1073.95,1706.86 L1074.06,1710.88 L1074.16,1714.90 L1074.26,1718.93 L1074.36,1722.95 L1074.45,1726.97 L1074.54,1731.00 L1074.63,1735.02 L1074.72,1739.05 L1074.80,1743.07 L1074.88,1747.09 L1074.95,1751.12 L1075.03,1755.14 L1075.10,1759.17 L1075.17,1763.19 L1075.24,1767.22 L1075.30,1771.24 L1075.37,1775.27 L1075.43,1779.30 L1075.49,1783.32 L1075.56,1787.35 L1075.62,1791.37 L1075.68,1795.40 L1075.74,1799.42 L1075.80,1803.44 L1075.86,1807.47 L1075.92,1811.49 L1075.98,1815.52 L1076.04,1819.54 L1076.09,1823.57 L1076.15,1827.59 L1076.20,1831.62 L1076.25,1835.64 L1076.31,1839.67 L1076.36,1843.69 L1076.41,1847.72 L1076.45,1851.74 L1076.50,1855.77 L1076.54,1859.79 L1076.59,1863.81 L1076.63,1867.84 L1076.67,1871.86 L1076.71,1875.89 L1076.74,1879.91 L1076.78,1883.94 L1076.81,1887.96 L1076.84,1891.99 L1076.87,1896.01 L1076.90,1900.04 L1076.93,1904.06 L1076.97,1908.09 L1077.02,1912.11 L1077.06,1916.14 L1077.09,1920.16 L1077.10,1924.19 L1077.08,1928.21 L1077.03,1932.24 L1076.94,1936.27 L1076.81,1940.30 L1076.65,1944.33 L1076.47,1948.35 L1076.26,1952.36 L1076.02,1956.38 L1075.62,1960.50 L1074.98,1964.52 L1073.94,1968.17 L1071.30,1971.35"/>
<path d="M1037.60,1133.30 L1038.01,1137.30 L1038.42,1141.30 L1038.84,1145.30 L1039.25,1149.30 L1039.66,1153.31 L1040.07,1157.31 L1040.49,1161.31 L1040.90,1165.31 L1041.31,1169.31 L1041.73,1173.31 L1042.14,1177.31 L1042.56,1181.31 L1042.97,1185.31 L1043.39,1189.31 L1043.80,1193.31 L1044.22,1197.32 L1044.64,1201.32 L1045.05,1205.32 L1045.47,1209.32 L1045.88,1213.32 L1046.30,1217.32 L1046.71,1221.32 L1047.13,1225.32 L1047.54,1229.32 L1047.96,1233.32 L1048.38,1237.32 L1048.79,1241.32 L1049.21,1245.33 L1049.62,1249.33 L1050.04,1253.33 L1050.46,1257.33 L1050.88,1261.33 L1051.30,1265.33 L1051.72,1269.33 L1052.14,1273.33 L1052.57,1277.33 L1052.99,1281.33 L1053.42,1285.33 L1053.85,1289.33 L1054.28,1293.33 L1054.71,1297.33 L1055.14,1301.32 L1055.59,1305.32 L1056.04,1309.32 L1056.51,1313.32 L1056.98,1317.31 L1057.46,1321.31 L1057.95,1325.30 L1058.43,1329.30 L1058.93,1333.29 L1059.42,1337.28 L1059.91,1341.28 L1060.40,1345.27 L1060.89,1349.27 L1061.37,1353.26 L1061.85,1357.26 L1062.32,1361.25 L1062.79,1365.25 L1063.24,1369.24 L1063.68,1373.24 L1064.11,1377.24 L1064.53,1381.24 L1064.93,1385.24 L1065.31,1389.24 L1065.68,1393.24 L1066.02,1397.25 L1066.35,1401.25 L1066.67,1405.26 L1066.97,1409.27 L1067.27,1413.28 L1067.57,1417.29 L1067.85,1421.30 L1068.13,1425.31 L1068.41,1429.32 L1068.67,1433.34 L1068.94,1437.35 L1069.19,1441.37 L1069.44,1445.38 L1069.69,1449.40 L1069.93,1453.41 L1070.17,1457.43 L1070.40,1461.45 L1070.63,1465.46 L1070.86,1469.48 L1071.08,1473.50 L1071.30,1477.52 L1071.52,1481.53 L1071.74,1485.55 L1071.95,1489.57 L1072.16,1493.59 L1072.37,1497.60 L1072.58,1501.62 L1072.79,1505.64 L1072.99,1509.65 L1073.19,1513.67 L1073.38,1517.69 L1073.57,1521.71 L1073.76,1525.72 L1073.94,1529.74 L1074.12,1533.76 L1074.30,1537.78 L1074.47,1541.80 L1074.65,1545.81 L1074.82,1549.83 L1074.99,1553.85 L1075.16,1557.87 L1075.33,1561.89 L1075.50,1565.91 L1075.68,1569.93 L1075.85,1573.95 L1076.02,1577.97 L1076.19,1581.98 L1076.37,1586.00 L1076.55,1590.02 L1076.73,1594.04 L1076.91,1598.06 L1077.10,1602.08 L1077.29,1606.09 L1077.48,1610.11 L1077.67,1614.13 L1077.87,1618.15 L1078.07,1622.16 L1078.27,1626.18 L1078.47,1630.20 L1078.67,1634.22 L1078.88,1638.23 L1079.08,1642.25 L1079.28,1646.27 L1079.48,1650.29 L1079.68,1654.30 L1079.88,1658.32 L1080.08,1662.34 L1080.27,1666.36 L1080.47,1670.37 L1080.65,1674.39 L1080.84,1678.41 L1081.02,1682.43 L1081.19,1686.45 L1081.37,1690.46 L1081.53,1694.48 L1081.69,1698.50 L1081.85,1702.52 L1082.00,1706.54 L1082.15,1710.56 L1082.30,1714.58 L1082.45,1718.60 L1082.59,1722.62 L1082.74,1726.64 L1082.88,1730.66 L1083.02,1734.68 L1083.16,1738.70 L1083.29,1742.72 L1083.43,1746.74 L1083.56,1750.76 L1083.69,1754.78 L1083.82,1758.80 L1083.94,1762.82 L1084.07,1766.84 L1084.19,1770.86 L1084.31,1774.88 L1084.42,1778.90 L1084.54,1782.92 L1084.65,1786.94 L1084.76,1790.96 L1084.87,1794.99 L1084.97,1799.01 L1085.08,1803.03 L1085.18,1807.05 L1085.28,1811.07 L1085.38,1815.09 L1085.47,1819.11 L1085.56,1823.13 L1085.66,1827.15 L1085.75,1831.18 L1085.84,1835.20 L1085.92,1839.22 L1086.01,1843.24 L1086.09,1847.26 L1086.18,1851.28 L1086.26,1855.30 L1086.34,1859.33 L1086.42,1863.35 L1086.50,1867.37 L1086.58,1871.39 L1086.65,1875.41 L1086.73,1879.43 L1086.81,1883.46 L1086.88,1887.48 L1086.95,1891.50 L1087.02,1895.52 L1087.08,1899.54 L1087.15,1903.56 L1087.21,1907.59 L1087.27,1911.61 L1087.33,1915.63 L1087.38,1919.65 L1087.44,1923.67 L1087.51,1927.70 L1087.59,1931.72 L1087.67,1935.74 L1087.77,1939.76 L1087.87,1943.79 L1088.00,1947.81 L1088.15,1951.84 L1088.33,1955.86 L1088.56,1959.86 L1088.85,1964.01 L1089.38,1968.25 L1091.00,1971.35"/>
<path d="M1051.40,1133.30 L1051.68,1137.33 L1051.96,1141.35 L1052.25,1145.38 L1052.53,1149.41 L1052.82,1153.44 L1053.11,1157.46 L1053.40,1161.49 L1053.69,1165.51 L1053.98,1169.54 L1054.28,1173.57 L1054.57,1177.59 L1054.87,1181.62 L1055.17,1185.65 L1055.47,1189.67 L1055.77,1193.70 L1056.08,1197.72 L1056.38,1201.75 L1056.69,1205.77 L1057.00,1209.80 L1057.32,1213.82 L1057.63,1217.85 L1057.95,1221.87 L1058.27,1225.90 L1058.59,1229.92 L1058.92,1233.94 L1059.24,1237.97 L1059.56,1241.99 L1059.89,1246.02 L1060.22,1250.04 L1060.55,1254.06 L1060.87,1258.09 L1061.20,1262.11 L1061.53,1266.13 L1061.86,1270.16 L1062.18,1274.18 L1062.51,1278.21 L1062.83,1282.23 L1063.16,1286.25 L1063.48,1290.28 L1063.80,1294.30 L1064.12,1298.33 L1064.44,1302.35 L1064.75,1306.38 L1065.07,1310.40 L1065.38,1314.43 L1065.70,1318.45 L1066.01,1322.47 L1066.33,1326.50 L1066.64,1330.52 L1066.96,1334.55 L1067.27,1338.57 L1067.58,1342.60 L1067.89,1346.62 L1068.21,1350.65 L1068.52,1354.67 L1068.83,1358.70 L1069.14,1362.72 L1069.45,1366.75 L1069.76,1370.77 L1070.07,1374.80 L1070.38,1378.82 L1070.69,1382.85 L1071.00,1386.87 L1071.31,1390.90 L1071.61,1394.92 L1071.92,1398.95 L1072.23,1402.98 L1072.53,1407.00 L1072.84,1411.03 L1073.14,1415.05 L1073.44,1419.08 L1073.74,1423.10 L1074.04,1427.13 L1074.34,1431.16 L1074.64,1435.18 L1074.94,1439.21 L1075.23,1443.23 L1075.53,1447.26 L1075.83,1451.29 L1076.13,1455.31 L1076.43,1459.34 L1076.73,1463.36 L1077.03,1467.39 L1077.33,1471.41 L1077.63,1475.44 L1077.93,1479.47 L1078.24,1483.49 L1078.54,1487.52 L1078.85,1491.54 L1079.16,1495.57 L1079.47,1499.59 L1079.78,1503.62 L1080.11,1507.64 L1080.44,1511.67 L1080.79,1515.69 L1081.13,1519.71 L1081.49,1523.73 L1081.84,1527.76 L1082.20,1531.78 L1082.56,1535.80 L1082.93,1539.82 L1083.28,1543.85 L1083.64,1547.87 L1084.00,1551.89 L1084.34,1555.92 L1084.69,1559.94 L1085.02,1563.96 L1085.35,1567.99 L1085.67,1572.01 L1085.97,1576.03 L1086.27,1580.06 L1086.55,1584.09 L1086.81,1588.11 L1087.06,1592.14 L1087.30,1596.17 L1087.51,1600.20 L1087.71,1604.23 L1087.91,1608.26 L1088.10,1612.29 L1088.29,1616.32 L1088.48,1620.35 L1088.65,1624.38 L1088.83,1628.42 L1089.00,1632.45 L1089.16,1636.48 L1089.33,1640.52 L1089.48,1644.55 L1089.63,1648.59 L1089.78,1652.62 L1089.93,1656.66 L1090.07,1660.69 L1090.21,1664.73 L1090.34,1668.77 L1090.47,1672.80 L1090.59,1676.84 L1090.72,1680.87 L1090.83,1684.91 L1090.95,1688.94 L1091.06,1692.98 L1091.17,1697.02 L1091.28,1701.05 L1091.38,1705.09 L1091.48,1709.12 L1091.57,1713.16 L1091.66,1717.19 L1091.74,1721.23 L1091.82,1725.27 L1091.90,1729.30 L1091.98,1733.34 L1092.06,1737.37 L1092.13,1741.41 L1092.20,1745.45 L1092.27,1749.48 L1092.34,1753.52 L1092.42,1757.56 L1092.49,1761.59 L1092.56,1765.63 L1092.63,1769.67 L1092.71,1773.70 L1092.78,1777.74 L1092.86,1781.78 L1092.94,1785.81 L1093.02,1789.85 L1093.11,1793.88 L1093.20,1797.92 L1093.30,1801.96 L1093.40,1805.99 L1093.52,1810.03 L1093.64,1814.06 L1093.77,1818.10 L1093.91,1822.13 L1094.05,1826.17 L1094.19,1830.20 L1094.33,1834.24 L1094.47,1838.27 L1094.61,1842.31 L1094.74,1846.34 L1094.87,1850.38 L1094.99,1854.41 L1095.10,1858.45 L1095.21,1862.49 L1095.30,1866.52 L1095.37,1870.56 L1095.44,1874.59 L1095.48,1878.63 L1095.51,1882.67 L1095.54,1886.70 L1095.56,1890.74 L1095.57,1894.78 L1095.59,1898.81 L1095.61,1902.85 L1095.63,1906.89 L1095.65,1910.92 L1095.67,1914.96 L1095.69,1919.00 L1095.70,1923.04 L1095.73,1927.07 L1095.75,1931.11 L1095.77,1935.15 L1095.80,1939.18 L1095.84,1943.22 L1095.88,1947.26 L1095.93,1951.30 L1095.99,1955.36 L1096.09,1959.42 L1096.24,1963.45 L1096.46,1967.44 L1097.40,1971.35"/>
<path d="M1056.60,1133.30 L1057.10,1137.29 L1057.61,1141.28 L1058.11,1145.26 L1058.61,1149.25 L1059.12,1153.24 L1059.62,1157.23 L1060.12,1161.22 L1060.62,1165.20 L1061.13,1169.19 L1061.63,1173.18 L1062.13,1177.17 L1062.63,1181.16 L1063.13,1185.14 L1063.64,1189.13 L1064.14,1193.12 L1064.64,1197.11 L1065.14,1201.10 L1065.65,1205.08 L1066.16,1209.07 L1066.69,1213.06 L1067.22,1217.04 L1067.76,1221.03 L1068.30,1225.01 L1068.84,1229.00 L1069.39,1232.98 L1069.93,1236.97 L1070.48,1240.95 L1071.02,1244.94 L1071.55,1248.92 L1072.09,1252.91 L1072.61,1256.90 L1073.13,1260.88 L1073.63,1264.87 L1074.13,1268.86 L1074.62,1272.85 L1075.09,1276.84 L1075.55,1280.83 L1075.99,1284.82 L1076.41,1288.82 L1076.82,1292.81 L1077.21,1296.81 L1077.57,1300.81 L1077.92,1304.81 L1078.27,1308.81 L1078.60,1312.81 L1078.93,1316.82 L1079.24,1320.82 L1079.55,1324.83 L1079.86,1328.84 L1080.15,1332.85 L1080.44,1336.86 L1080.73,1340.87 L1081.00,1344.88 L1081.28,1348.89 L1081.55,1352.90 L1081.81,1356.91 L1082.07,1360.93 L1082.33,1364.94 L1082.58,1368.95 L1082.83,1372.97 L1083.08,1376.98 L1083.33,1380.99 L1083.58,1385.01 L1083.83,1389.02 L1084.07,1393.03 L1084.32,1397.04 L1084.56,1401.05 L1084.81,1405.07 L1085.05,1409.08 L1085.30,1413.09 L1085.54,1417.10 L1085.77,1421.12 L1086.01,1425.13 L1086.24,1429.14 L1086.47,1433.15 L1086.70,1437.17 L1086.93,1441.18 L1087.15,1445.19 L1087.38,1449.21 L1087.60,1453.22 L1087.82,1457.23 L1088.03,1461.25 L1088.25,1465.26 L1088.46,1469.28 L1088.67,1473.29 L1088.87,1477.30 L1089.08,1481.32 L1089.28,1485.33 L1089.48,1489.35 L1089.68,1493.36 L1089.87,1497.38 L1090.07,1501.39 L1090.26,1505.41 L1090.44,1509.42 L1090.62,1513.44 L1090.80,1517.45 L1090.97,1521.47 L1091.14,1525.48 L1091.31,1529.50 L1091.48,1533.52 L1091.64,1537.53 L1091.81,1541.55 L1091.97,1545.56 L1092.13,1549.58 L1092.29,1553.60 L1092.46,1557.61 L1092.62,1561.63 L1092.78,1565.65 L1092.94,1569.66 L1093.11,1573.68 L1093.28,1577.69 L1093.45,1581.71 L1093.62,1585.73 L1093.79,1589.74 L1093.97,1593.76 L1094.15,1597.77 L1094.33,1601.79 L1094.52,1605.80 L1094.71,1609.82 L1094.90,1613.83 L1095.10,1617.85 L1095.30,1621.86 L1095.50,1625.88 L1095.70,1629.89 L1095.91,1633.91 L1096.11,1637.92 L1096.32,1641.93 L1096.52,1645.95 L1096.73,1649.96 L1096.94,1653.98 L1097.15,1657.99 L1097.35,1662.01 L1097.56,1666.02 L1097.76,1670.03 L1097.97,1674.05 L1098.17,1678.06 L1098.37,1682.08 L1098.57,1686.09 L1098.77,1690.11 L1098.97,1694.12 L1099.16,1698.14 L1099.35,1702.15 L1099.55,1706.17 L1099.75,1710.18 L1099.96,1714.20 L1100.17,1718.21 L1100.38,1722.22 L1100.60,1726.24 L1100.81,1730.25 L1101.03,1734.27 L1101.24,1738.28 L1101.45,1742.30 L1101.66,1746.31 L1101.87,1750.33 L1102.07,1754.34 L1102.27,1758.36 L1102.46,1762.37 L1102.64,1766.39 L1102.81,1770.41 L1102.98,1774.42 L1103.13,1778.44 L1103.28,1782.45 L1103.41,1786.47 L1103.53,1790.49 L1103.63,1794.50 L1103.72,1798.52 L1103.80,1802.54 L1103.87,1806.56 L1103.95,1810.57 L1104.02,1814.59 L1104.08,1818.61 L1104.15,1822.63 L1104.21,1826.65 L1104.27,1830.67 L1104.33,1834.69 L1104.38,1838.71 L1104.44,1842.73 L1104.49,1846.75 L1104.53,1850.77 L1104.57,1854.79 L1104.61,1858.81 L1104.64,1862.83 L1104.68,1866.85 L1104.70,1870.86 L1104.73,1874.88 L1104.74,1878.90 L1104.76,1882.92 L1104.77,1886.94 L1104.78,1890.96 L1104.79,1894.98 L1104.80,1899.00 L1104.81,1903.02 L1104.82,1907.04 L1104.83,1911.06 L1104.84,1915.08 L1104.86,1919.10 L1104.87,1923.12 L1104.89,1927.14 L1104.90,1931.16 L1104.92,1935.18 L1104.94,1939.20 L1104.96,1943.22 L1104.99,1947.24 L1105.02,1951.25 L1105.06,1955.27 L1105.11,1959.29 L1105.17,1963.31 L1105.23,1967.33 L1105.30,1971.35"/>
<path d="M1071.60,1133.30 L1072.31,1137.28 L1073.02,1141.27 L1073.72,1145.25 L1074.41,1149.24 L1075.08,1153.22 L1075.74,1157.21 L1076.38,1161.21 L1077.00,1165.20 L1077.60,1169.19 L1078.18,1173.19 L1078.72,1177.19 L1079.25,1181.19 L1079.74,1185.19 L1080.19,1189.20 L1080.62,1193.20 L1081.00,1197.21 L1081.35,1201.22 L1081.68,1205.24 L1081.99,1209.26 L1082.28,1213.27 L1082.56,1217.30 L1082.83,1221.32 L1083.08,1225.35 L1083.32,1229.37 L1083.56,1233.40 L1083.78,1237.44 L1084.00,1241.47 L1084.21,1245.50 L1084.41,1249.54 L1084.61,1253.57 L1084.81,1257.61 L1085.01,1261.64 L1085.20,1265.68 L1085.40,1269.72 L1085.59,1273.75 L1085.79,1277.79 L1086.00,1281.82 L1086.21,1285.86 L1086.42,1289.89 L1086.65,1293.92 L1086.88,1297.96 L1087.12,1301.98 L1087.36,1306.01 L1087.61,1310.04 L1087.86,1314.07 L1088.11,1318.10 L1088.36,1322.13 L1088.62,1326.16 L1088.87,1330.19 L1089.13,1334.22 L1089.39,1338.25 L1089.65,1342.27 L1089.91,1346.30 L1090.16,1350.33 L1090.42,1354.36 L1090.68,1358.39 L1090.94,1362.42 L1091.19,1366.45 L1091.45,1370.48 L1091.70,1374.50 L1091.95,1378.53 L1092.20,1382.56 L1092.45,1386.59 L1092.69,1390.62 L1092.93,1394.65 L1093.17,1398.68 L1093.41,1402.71 L1093.64,1406.74 L1093.87,1410.77 L1094.10,1414.80 L1094.33,1418.83 L1094.55,1422.86 L1094.77,1426.89 L1094.99,1430.92 L1095.21,1434.95 L1095.43,1438.99 L1095.65,1443.02 L1095.87,1447.05 L1096.09,1451.08 L1096.30,1455.11 L1096.52,1459.14 L1096.74,1463.17 L1096.95,1467.20 L1097.17,1471.23 L1097.39,1475.26 L1097.61,1479.30 L1097.83,1483.33 L1098.05,1487.36 L1098.27,1491.39 L1098.49,1495.42 L1098.72,1499.45 L1098.95,1503.48 L1099.17,1507.51 L1099.40,1511.54 L1099.63,1515.57 L1099.86,1519.60 L1100.10,1523.63 L1100.33,1527.66 L1100.56,1531.69 L1100.80,1535.72 L1101.03,1539.75 L1101.26,1543.78 L1101.50,1547.81 L1101.73,1551.84 L1101.97,1555.87 L1102.20,1559.90 L1102.43,1563.93 L1102.67,1567.96 L1102.90,1571.99 L1103.13,1576.02 L1103.37,1580.05 L1103.60,1584.08 L1103.83,1588.11 L1104.06,1592.14 L1104.28,1596.17 L1104.51,1600.20 L1104.74,1604.23 L1104.97,1608.27 L1105.20,1612.30 L1105.43,1616.33 L1105.66,1620.36 L1105.89,1624.39 L1106.12,1628.42 L1106.35,1632.45 L1106.58,1636.48 L1106.81,1640.51 L1107.04,1644.54 L1107.27,1648.57 L1107.50,1652.60 L1107.73,1656.63 L1107.95,1660.66 L1108.17,1664.69 L1108.39,1668.72 L1108.61,1672.75 L1108.82,1676.78 L1109.04,1680.82 L1109.25,1684.85 L1109.45,1688.88 L1109.65,1692.91 L1109.85,1696.94 L1110.05,1700.97 L1110.24,1705.01 L1110.45,1709.04 L1110.65,1713.07 L1110.86,1717.10 L1111.07,1721.13 L1111.28,1725.17 L1111.49,1729.20 L1111.70,1733.23 L1111.90,1737.26 L1112.11,1741.30 L1112.31,1745.33 L1112.51,1749.36 L1112.70,1753.40 L1112.88,1757.43 L1113.06,1761.46 L1113.23,1765.50 L1113.40,1769.53 L1113.55,1773.56 L1113.69,1777.60 L1113.82,1781.63 L1113.94,1785.67 L1114.05,1789.70 L1114.14,1793.74 L1114.21,1797.77 L1114.28,1801.81 L1114.34,1805.84 L1114.39,1809.88 L1114.45,1813.91 L1114.51,1817.95 L1114.56,1821.98 L1114.61,1826.02 L1114.66,1830.06 L1114.71,1834.09 L1114.75,1838.13 L1114.79,1842.17 L1114.83,1846.21 L1114.87,1850.24 L1114.90,1854.28 L1114.93,1858.32 L1114.95,1862.35 L1114.97,1866.39 L1114.98,1870.43 L1114.99,1874.47 L1115.00,1878.50 L1115.00,1882.54 L1115.00,1886.58 L1115.00,1890.61 L1115.00,1894.65 L1115.00,1898.69 L1115.00,1902.72 L1115.02,1906.76 L1115.04,1910.80 L1115.07,1914.83 L1115.10,1918.87 L1115.13,1922.91 L1115.16,1926.94 L1115.19,1930.98 L1115.20,1935.02 L1115.20,1939.06 L1115.20,1943.09 L1115.20,1947.13 L1115.20,1951.17 L1115.20,1955.20 L1115.20,1959.24 L1115.20,1963.28 L1115.20,1967.31 L1115.20,1971.35"/>
<path d="M1079.40,1133.30 L1079.83,1137.30 L1080.25,1141.29 L1080.67,1145.29 L1081.09,1149.29 L1081.51,1153.29 L1081.93,1157.29 L1082.35,1161.29 L1082.76,1165.28 L1083.17,1169.28 L1083.58,1173.28 L1083.99,1177.28 L1084.39,1181.28 L1084.79,1185.28 L1085.19,1189.28 L1085.59,1193.28 L1085.98,1197.28 L1086.37,1201.28 L1086.76,1205.28 L1087.15,1209.28 L1087.53,1213.28 L1087.91,1217.29 L1088.28,1221.29 L1088.66,1225.29 L1089.03,1229.29 L1089.40,1233.30 L1089.77,1237.30 L1090.13,1241.30 L1090.50,1245.31 L1090.86,1249.31 L1091.23,1253.31 L1091.59,1257.32 L1091.95,1261.32 L1092.31,1265.32 L1092.68,1269.33 L1093.04,1273.33 L1093.41,1277.33 L1093.77,1281.34 L1094.14,1285.34 L1094.51,1289.34 L1094.88,1293.35 L1095.25,1297.35 L1095.63,1301.35 L1096.00,1305.35 L1096.38,1309.36 L1096.76,1313.36 L1097.14,1317.36 L1097.52,1321.36 L1097.90,1325.36 L1098.28,1329.37 L1098.66,1333.37 L1099.04,1337.37 L1099.42,1341.37 L1099.81,1345.37 L1100.19,1349.37 L1100.57,1353.38 L1100.96,1357.38 L1101.34,1361.38 L1101.72,1365.38 L1102.10,1369.38 L1102.48,1373.38 L1102.86,1377.39 L1103.24,1381.39 L1103.62,1385.39 L1104.00,1389.39 L1104.38,1393.39 L1104.76,1397.40 L1105.13,1401.40 L1105.51,1405.40 L1105.89,1409.40 L1106.26,1413.40 L1106.65,1417.41 L1107.03,1421.41 L1107.41,1425.41 L1107.79,1429.41 L1108.17,1433.41 L1108.55,1437.42 L1108.93,1441.42 L1109.31,1445.42 L1109.69,1449.42 L1110.06,1453.42 L1110.44,1457.43 L1110.81,1461.43 L1111.18,1465.43 L1111.55,1469.44 L1111.92,1473.44 L1112.28,1477.44 L1112.64,1481.45 L1112.99,1485.45 L1113.34,1489.45 L1113.69,1493.46 L1114.04,1497.46 L1114.37,1501.47 L1114.72,1505.47 L1115.07,1509.48 L1115.42,1513.48 L1115.77,1517.49 L1116.13,1521.50 L1116.49,1525.50 L1116.85,1529.51 L1117.20,1533.51 L1117.56,1537.52 L1117.91,1541.53 L1118.26,1545.53 L1118.60,1549.54 L1118.94,1553.55 L1119.26,1557.56 L1119.58,1561.56 L1119.89,1565.57 L1120.19,1569.58 L1120.48,1573.59 L1120.75,1577.60 L1121.01,1581.61 L1121.26,1585.62 L1121.49,1589.63 L1121.70,1593.64 L1121.90,1597.66 L1122.07,1601.67 L1122.24,1605.68 L1122.40,1609.70 L1122.56,1613.71 L1122.71,1617.73 L1122.86,1621.74 L1123.00,1625.76 L1123.14,1629.78 L1123.27,1633.79 L1123.40,1637.81 L1123.52,1641.83 L1123.64,1645.85 L1123.76,1649.87 L1123.87,1653.89 L1123.98,1657.91 L1124.09,1661.93 L1124.20,1665.95 L1124.30,1669.97 L1124.40,1673.99 L1124.50,1678.01 L1124.59,1682.03 L1124.69,1686.05 L1124.78,1690.07 L1124.87,1694.08 L1124.96,1698.10 L1125.05,1702.12 L1125.13,1706.14 L1125.22,1710.16 L1125.30,1714.18 L1125.37,1718.20 L1125.45,1722.22 L1125.52,1726.24 L1125.59,1730.26 L1125.66,1734.27 L1125.73,1738.29 L1125.80,1742.31 L1125.87,1746.33 L1125.93,1750.35 L1126.00,1754.37 L1126.06,1758.39 L1126.12,1762.41 L1126.19,1766.43 L1126.25,1770.45 L1126.32,1774.47 L1126.38,1778.49 L1126.45,1782.51 L1126.52,1786.53 L1126.58,1790.55 L1126.65,1794.57 L1126.72,1798.58 L1126.80,1802.60 L1126.87,1806.62 L1126.93,1810.64 L1127.00,1814.66 L1127.07,1818.68 L1127.13,1822.70 L1127.19,1826.72 L1127.26,1830.74 L1127.32,1834.76 L1127.39,1838.78 L1127.46,1842.80 L1127.53,1846.82 L1127.60,1850.84 L1127.67,1854.86 L1127.75,1858.88 L1127.83,1862.90 L1127.92,1866.91 L1128.01,1870.93 L1128.11,1874.95 L1128.21,1878.97 L1128.32,1882.99 L1128.47,1887.00 L1128.64,1891.02 L1128.81,1895.04 L1128.95,1899.05 L1129.08,1903.07 L1129.21,1907.09 L1129.34,1911.11 L1129.46,1915.13 L1129.55,1919.15 L1129.60,1923.17 L1129.60,1927.18 L1129.57,1931.21 L1129.51,1935.23 L1129.44,1939.25 L1129.35,1943.27 L1129.24,1947.29 L1129.12,1951.30 L1128.99,1955.32 L1128.79,1959.33 L1128.49,1963.34 L1128.14,1967.35 L1127.75,1971.35"/>
<path d="M1100.40,1133.30 L1100.88,1137.29 L1101.36,1141.29 L1101.85,1145.28 L1102.34,1149.27 L1102.83,1153.26 L1103.32,1157.26 L1103.82,1161.25 L1104.31,1165.24 L1104.81,1169.23 L1105.31,1173.22 L1105.82,1177.21 L1106.32,1181.20 L1106.83,1185.19 L1107.35,1189.18 L1107.86,1193.17 L1108.38,1197.16 L1108.90,1201.15 L1109.43,1205.13 L1109.96,1209.12 L1110.51,1213.10 L1111.06,1217.09 L1111.62,1221.07 L1112.18,1225.06 L1112.74,1229.04 L1113.31,1233.02 L1113.88,1237.00 L1114.45,1240.99 L1115.03,1244.97 L1115.60,1248.95 L1116.17,1252.93 L1116.74,1256.91 L1117.30,1260.90 L1117.87,1264.88 L1118.42,1268.86 L1118.97,1272.85 L1119.52,1276.83 L1120.05,1280.82 L1120.58,1284.80 L1121.10,1288.79 L1121.61,1292.78 L1122.11,1296.77 L1122.59,1300.76 L1123.08,1304.75 L1123.58,1308.75 L1124.08,1312.74 L1124.59,1316.73 L1125.11,1320.73 L1125.62,1324.72 L1126.14,1328.71 L1126.65,1332.71 L1127.16,1336.71 L1127.66,1340.70 L1128.16,1344.70 L1128.64,1348.70 L1129.12,1352.69 L1129.58,1356.69 L1130.03,1360.69 L1130.46,1364.69 L1130.87,1368.70 L1131.26,1372.70 L1131.63,1376.70 L1131.98,1380.71 L1132.30,1384.71 L1132.59,1388.72 L1132.85,1392.72 L1133.09,1396.73 L1133.28,1400.74 L1133.47,1404.75 L1133.64,1408.77 L1133.80,1412.78 L1133.95,1416.79 L1134.10,1420.81 L1134.23,1424.83 L1134.36,1428.85 L1134.49,1432.87 L1134.61,1436.89 L1134.72,1440.91 L1134.83,1444.93 L1134.93,1448.95 L1135.04,1452.98 L1135.14,1457.00 L1135.24,1461.02 L1135.34,1465.05 L1135.43,1469.07 L1135.53,1473.10 L1135.63,1477.12 L1135.73,1481.14 L1135.84,1485.17 L1135.94,1489.19 L1136.05,1493.21 L1136.17,1497.23 L1136.29,1501.25 L1136.41,1505.27 L1136.53,1509.29 L1136.65,1513.31 L1136.77,1517.33 L1136.90,1521.35 L1137.02,1525.37 L1137.14,1529.39 L1137.26,1533.41 L1137.38,1537.43 L1137.51,1541.45 L1137.63,1545.47 L1137.75,1549.49 L1137.87,1553.52 L1137.99,1557.54 L1138.12,1561.56 L1138.24,1565.58 L1138.36,1569.60 L1138.48,1573.62 L1138.60,1577.64 L1138.72,1581.66 L1138.83,1585.68 L1138.95,1589.70 L1139.07,1593.72 L1139.18,1597.74 L1139.30,1601.76 L1139.41,1605.78 L1139.53,1609.80 L1139.64,1613.82 L1139.75,1617.84 L1139.86,1621.86 L1139.97,1625.88 L1140.08,1629.90 L1140.19,1633.92 L1140.30,1637.94 L1140.41,1641.97 L1140.52,1645.99 L1140.63,1650.01 L1140.73,1654.03 L1140.84,1658.05 L1140.95,1662.07 L1141.06,1666.09 L1141.17,1670.11 L1141.28,1674.13 L1141.39,1678.15 L1141.50,1682.17 L1141.61,1686.19 L1141.72,1690.21 L1141.84,1694.23 L1141.95,1698.25 L1142.07,1702.27 L1142.18,1706.29 L1142.30,1710.32 L1142.42,1714.34 L1142.54,1718.36 L1142.67,1722.38 L1142.79,1726.40 L1142.91,1730.42 L1143.04,1734.44 L1143.16,1738.46 L1143.29,1742.48 L1143.41,1746.50 L1143.54,1750.52 L1143.66,1754.54 L1143.78,1758.56 L1143.91,1762.58 L1144.03,1766.60 L1144.15,1770.62 L1144.27,1774.64 L1144.39,1778.66 L1144.51,1782.68 L1144.63,1786.70 L1144.74,1790.72 L1144.86,1794.74 L1144.97,1798.76 L1145.07,1802.78 L1145.18,1806.80 L1145.29,1810.82 L1145.39,1814.84 L1145.49,1818.87 L1145.59,1822.89 L1145.69,1826.91 L1145.79,1830.93 L1145.89,1834.95 L1145.99,1838.97 L1146.09,1842.99 L1146.19,1847.01 L1146.28,1851.03 L1146.38,1855.05 L1146.48,1859.07 L1146.57,1863.10 L1146.67,1867.12 L1146.77,1871.14 L1146.87,1875.16 L1146.97,1879.18 L1147.06,1883.20 L1147.15,1887.22 L1147.24,1891.24 L1147.34,1895.26 L1147.46,1899.28 L1147.64,1903.30 L1147.93,1907.32 L1148.26,1911.33 L1148.55,1915.34 L1148.73,1919.36 L1148.75,1923.38 L1148.73,1927.40 L1148.69,1931.42 L1148.64,1935.44 L1148.58,1939.47 L1148.51,1943.49 L1148.43,1947.51 L1148.35,1951.54 L1148.24,1955.60 L1148.07,1959.66 L1147.83,1963.67 L1147.46,1967.58 L1146.00,1971.35"/>
<path d="M1121.60,1133.30 L1121.99,1137.31 L1122.39,1141.31 L1122.78,1145.32 L1123.17,1149.33 L1123.56,1153.33 L1123.95,1157.34 L1124.33,1161.35 L1124.72,1165.36 L1125.10,1169.36 L1125.49,1173.37 L1125.87,1177.38 L1126.25,1181.39 L1126.63,1185.39 L1127.01,1189.40 L1127.38,1193.41 L1127.76,1197.42 L1128.13,1201.43 L1128.50,1205.44 L1128.87,1209.45 L1129.24,1213.45 L1129.61,1217.46 L1129.97,1221.47 L1130.33,1225.48 L1130.69,1229.49 L1131.05,1233.50 L1131.41,1237.51 L1131.77,1241.52 L1132.13,1245.53 L1132.48,1249.54 L1132.84,1253.55 L1133.20,1257.56 L1133.55,1261.57 L1133.91,1265.58 L1134.27,1269.59 L1134.62,1273.60 L1134.98,1277.61 L1135.34,1281.62 L1135.70,1285.63 L1136.06,1289.64 L1136.42,1293.65 L1136.79,1297.66 L1137.15,1301.67 L1137.52,1305.68 L1137.89,1309.69 L1138.25,1313.70 L1138.62,1317.71 L1138.99,1321.72 L1139.36,1325.72 L1139.73,1329.73 L1140.10,1333.74 L1140.47,1337.75 L1140.84,1341.76 L1141.22,1345.77 L1141.59,1349.78 L1141.96,1353.79 L1142.33,1357.79 L1142.71,1361.80 L1143.08,1365.81 L1143.45,1369.82 L1143.82,1373.83 L1144.20,1377.84 L1144.57,1381.85 L1144.94,1385.86 L1145.31,1389.86 L1145.68,1393.87 L1146.05,1397.88 L1146.42,1401.89 L1146.80,1405.90 L1147.17,1409.91 L1147.54,1413.92 L1147.91,1417.93 L1148.28,1421.93 L1148.66,1425.94 L1149.03,1429.95 L1149.40,1433.96 L1149.77,1437.97 L1150.15,1441.98 L1150.52,1445.99 L1150.89,1449.99 L1151.26,1454.00 L1151.63,1458.01 L1152.01,1462.02 L1152.38,1466.03 L1152.75,1470.04 L1153.12,1474.05 L1153.49,1478.06 L1153.86,1482.07 L1154.22,1486.07 L1154.59,1490.08 L1154.96,1494.09 L1155.33,1498.10 L1155.69,1502.11 L1156.06,1506.12 L1156.42,1510.13 L1156.78,1514.14 L1157.14,1518.15 L1157.50,1522.16 L1157.85,1526.17 L1158.21,1530.18 L1158.57,1534.19 L1158.92,1538.20 L1159.28,1542.21 L1159.63,1546.22 L1159.99,1550.23 L1160.35,1554.24 L1160.70,1558.25 L1161.06,1562.26 L1161.42,1566.27 L1161.78,1570.28 L1162.14,1574.29 L1162.50,1578.30 L1162.87,1582.31 L1163.23,1586.32 L1163.60,1590.33 L1163.97,1594.34 L1164.35,1598.34 L1164.72,1602.35 L1165.10,1606.36 L1165.48,1610.37 L1165.87,1614.38 L1166.26,1618.38 L1166.65,1622.39 L1167.04,1626.40 L1167.44,1630.40 L1167.84,1634.41 L1168.24,1638.42 L1168.64,1642.42 L1169.04,1646.43 L1169.44,1650.43 L1169.83,1654.44 L1170.23,1658.45 L1170.63,1662.45 L1171.03,1666.46 L1171.42,1670.46 L1171.82,1674.47 L1172.21,1678.48 L1172.60,1682.49 L1172.98,1686.49 L1173.36,1690.50 L1173.74,1694.51 L1174.11,1698.52 L1174.48,1702.53 L1174.85,1706.54 L1175.21,1710.54 L1175.57,1714.55 L1175.92,1718.56 L1176.28,1722.58 L1176.63,1726.59 L1176.97,1730.60 L1177.32,1734.61 L1177.67,1738.62 L1178.01,1742.63 L1178.35,1746.64 L1178.70,1750.65 L1179.04,1754.66 L1179.38,1758.68 L1179.72,1762.69 L1180.07,1766.70 L1180.41,1770.71 L1180.76,1774.72 L1181.11,1778.73 L1181.46,1782.74 L1181.81,1786.75 L1182.17,1790.76 L1182.53,1794.77 L1182.89,1798.78 L1183.27,1802.79 L1183.69,1806.80 L1184.14,1810.80 L1184.59,1814.81 L1185.02,1818.82 L1185.41,1822.82 L1185.73,1826.83 L1185.95,1830.85 L1186.10,1834.86 L1186.22,1838.88 L1186.34,1842.90 L1186.44,1846.93 L1186.53,1850.95 L1186.61,1854.98 L1186.69,1859.01 L1186.75,1863.03 L1186.82,1867.06 L1186.88,1871.09 L1186.93,1875.12 L1186.98,1879.14 L1187.03,1883.17 L1187.08,1887.20 L1187.11,1891.22 L1187.15,1895.25 L1187.19,1899.27 L1187.23,1903.31 L1187.26,1907.38 L1187.28,1911.49 L1187.30,1915.62 L1187.32,1919.77 L1187.34,1923.92 L1187.36,1928.08 L1187.38,1932.22 L1187.40,1936.35 L1187.42,1940.46 L1187.46,1944.53 L1187.50,1948.56 L1187.55,1952.54 L1187.61,1956.47 L1187.68,1960.33 L1187.76,1964.12 L1187.86,1967.83 L1189.30,1971.35"/>
<path d="M161.50,1500.00 L163.30,1502.41 L165.10,1504.82 L166.89,1507.23 L168.69,1509.65 L170.47,1512.07 L172.26,1514.50 L174.04,1516.92 L175.81,1519.36 L177.59,1521.79 L179.36,1524.23 L181.13,1526.67 L182.89,1529.11 L184.65,1531.56 L186.41,1534.01 L188.17,1536.46 L189.92,1538.92 L191.67,1541.37 L193.42,1543.83 L195.16,1546.30 L196.90,1548.76 L198.64,1551.23 L200.38,1553.70 L202.11,1556.17 L203.84,1558.65 L205.57,1561.12 L207.30,1563.60 L209.02,1566.08 L210.75,1568.57 L212.47,1571.05 L214.19,1573.54 L215.90,1576.03 L217.62,1578.52 L219.33,1581.01 L221.04,1583.50 L222.75,1586.00 L224.46,1588.49 L226.17,1590.99 L227.87,1593.49 L229.58,1595.99 L231.28,1598.49 L232.98,1600.99 L234.68,1603.50 L236.38,1606.00 L238.07,1608.51 L239.77,1611.01 L241.46,1613.52 L243.16,1616.03 L244.85,1618.53 L246.54,1621.04 L248.24,1623.55 L249.93,1626.06 L251.62,1628.57 L253.31,1631.08 L254.99,1633.59 L256.68,1636.10 L258.37,1638.62 L260.06,1641.13 L261.75,1643.64 L263.43,1646.15 L265.12,1648.66 L266.81,1651.17 L268.49,1653.68 L270.18,1656.19 L271.87,1658.70 L273.55,1661.21 L275.24,1663.72 L276.93,1666.23 L278.62,1668.73 L280.31,1671.24 L281.99,1673.75 L283.68,1676.25 L285.37,1678.76 L287.06,1681.26 L288.75,1683.77 L290.45,1686.27 L292.14,1688.77 L293.83,1691.27 L295.53,1693.77 L297.22,1696.26 L298.92,1698.76 L300.61,1701.26 L302.31,1703.75 L304.01,1706.24 L305.71,1708.73 L307.42,1711.22 L309.12,1713.71 L310.83,1716.20 L312.53,1718.68 L314.24,1721.17 L315.95,1723.65 L317.66,1726.13 L319.38,1728.61 L321.09,1731.08 L322.81,1733.56 L324.53,1736.03 L326.25,1738.50 L327.97,1740.96 L329.70,1743.43 L331.43,1745.89 L333.16,1748.35 L334.89,1750.81 L336.63,1753.27 L338.36,1755.72 L340.10,1758.17 L341.85,1760.62 L343.60,1763.07 L345.35,1765.51 L347.10,1767.95 L348.86,1770.39 L350.62,1772.82 L352.39,1775.25 L354.16,1777.68 L355.94,1780.11 L357.73,1782.53 L359.51,1784.94 L361.31,1787.36 L363.11,1789.77 L364.92,1792.18 L366.73,1794.58 L368.55,1796.98 L370.38,1799.37 L372.22,1801.76 L374.06,1804.15 L375.91,1806.53 L377.77,1808.91 L379.64,1811.28 L381.51,1813.65 L383.40,1816.01 L385.29,1818.37 L387.19,1820.73 L389.11,1823.08 L391.03,1825.42 L392.96,1827.76 L394.90,1830.10 L396.86,1832.43 L398.82,1834.75 L400.80,1837.07 L402.78,1839.38 L404.78,1841.69 L406.79,1843.99 L408.81,1846.28 L410.84,1848.56 L412.89,1850.83 L414.95,1853.09 L417.02,1855.34 L419.10,1857.57 L421.20,1859.79 L423.31,1861.99 L425.44,1864.18 L427.58,1866.36 L429.73,1868.51 L431.90,1870.65 L434.08,1872.76 L436.28,1874.86 L438.49,1876.93 L440.72,1878.99 L442.96,1881.02 L445.22,1883.02 L447.50,1885.00 L449.79,1886.96 L452.10,1888.89 L454.42,1890.79 L456.76,1892.66 L459.12,1894.51 L461.49,1896.34 L463.88,1898.14 L466.29,1899.91 L468.71,1901.66 L471.15,1903.39 L473.60,1905.10 L476.06,1906.78 L478.54,1908.45 L481.04,1910.09 L483.55,1911.71 L486.08,1913.32 L488.62,1914.90 L491.17,1916.46 L493.74,1918.01 L496.32,1919.54 L498.91,1921.05 L501.52,1922.55 L504.14,1924.03 L506.78,1925.49 L509.42,1926.93 L512.08,1928.35 L514.75,1929.76 L517.44,1931.14 L520.13,1932.50 L522.84,1933.83 L525.56,1935.15 L528.29,1936.44 L531.03,1937.70 L533.78,1938.94 L536.55,1940.15 L539.32,1941.34 L542.10,1942.51 L544.90,1943.65 L547.70,1944.78 L550.51,1945.89 L553.33,1946.98 L556.16,1948.05 L559.00,1949.11 L561.85,1950.16 L564.70,1951.19 L567.57,1952.20 L570.44,1953.19 L573.32,1954.16 L576.21,1955.11 L579.10,1956.03 L582.00,1956.92 L584.91,1957.78 L587.82,1958.60 L590.74,1959.39 L593.67,1960.14 L596.60,1960.85 L599.54,1961.53 L602.48,1962.17 L605.43,1962.78 L608.39,1963.35 L611.34,1963.89 L614.31,1964.40 L617.27,1964.87 L620.24,1965.31 L623.22,1965.72 L626.20,1966.10 L629.18,1966.46 L632.17,1966.78 L635.16,1967.09 L638.15,1967.36 L641.15,1967.62 L644.15,1967.86 L647.15,1968.08 L650.15,1968.28 L653.16,1968.46 L656.17,1968.64 L659.18,1968.80 L662.19,1968.95 L665.21,1969.08 L668.23,1969.22 L671.25,1969.34 L674.27,1969.46 L677.29,1969.58 L680.32,1969.70 L683.34,1969.81 L686.37,1969.92 L689.40,1970.02 L692.42,1970.12 L695.45,1970.22 L698.48,1970.31 L701.51,1970.40 L704.54,1970.49 L707.57,1970.58 L710.60,1970.66 L713.64,1970.73 L716.67,1970.80 L719.69,1970.87 L722.72,1970.94 L725.75,1971.00 L728.78,1971.05 L731.81,1971.11 L734.83,1971.16 L737.86,1971.20 L740.88,1971.24 L743.90,1971.28 L746.92,1971.31 L749.94,1971.33 L752.96,1971.35 L755.97,1971.35 L758.98,1971.35 L761.99,1971.35 L765.00,1971.35 L768.01,1971.35 L771.01,1971.35 L774.01,1971.35 L777.01,1971.35 L780.00,1971.35"/>
<path d="M161.50,1802.50 L163.80,1804.44 L166.12,1806.37 L168.44,1808.29 L170.77,1810.20 L173.11,1812.11 L175.46,1814.00 L177.82,1815.89 L180.18,1817.76 L182.55,1819.63 L184.93,1821.49 L187.32,1823.33 L189.72,1825.17 L192.13,1827.00 L194.54,1828.82 L196.96,1830.63 L199.39,1832.43 L201.83,1834.22 L204.27,1836.00 L206.73,1837.77 L209.19,1839.53 L211.66,1841.27 L214.13,1843.01 L216.62,1844.74 L219.11,1846.46 L221.61,1848.17 L224.11,1849.86 L226.63,1851.55 L229.15,1853.22 L231.68,1854.89 L234.21,1856.54 L236.75,1858.18 L239.30,1859.81 L241.86,1861.43 L244.42,1863.04 L246.99,1864.64 L249.57,1866.23 L252.15,1867.80 L254.75,1869.36 L257.34,1870.92 L259.95,1872.46 L262.56,1873.98 L265.18,1875.50 L267.80,1877.01 L270.43,1878.50 L273.07,1879.98 L275.71,1881.45 L278.36,1882.90 L281.02,1884.35 L283.68,1885.78 L286.35,1887.20 L289.02,1888.60 L291.70,1890.00 L294.39,1891.38 L297.08,1892.75 L299.78,1894.10 L302.48,1895.45 L305.19,1896.78 L307.91,1898.09 L310.63,1899.40 L313.35,1900.69 L316.09,1901.97 L318.82,1903.23 L321.57,1904.49 L324.32,1905.73 L327.07,1906.95 L329.83,1908.17 L332.59,1909.37 L335.36,1910.56 L338.14,1911.74 L340.92,1912.90 L343.70,1914.06 L346.49,1915.20 L349.29,1916.32 L352.09,1917.44 L354.89,1918.54 L357.70,1919.63 L360.52,1920.71 L363.34,1921.77 L366.16,1922.83 L368.99,1923.87 L371.82,1924.90 L374.66,1925.91 L377.50,1926.92 L380.35,1927.91 L383.20,1928.89 L386.05,1929.85 L388.91,1930.81 L391.77,1931.75 L394.64,1932.68 L397.51,1933.60 L400.38,1934.51 L403.26,1935.40 L406.15,1936.28 L409.03,1937.15 L411.92,1938.01 L414.82,1938.86 L417.71,1939.69 L420.62,1940.52 L423.52,1941.33 L426.43,1942.13 L429.34,1942.91 L432.26,1943.69 L435.17,1944.45 L438.10,1945.20 L441.02,1945.95 L443.95,1946.67 L446.88,1947.39 L449.82,1948.10 L452.75,1948.79 L455.70,1949.47 L458.64,1950.14 L461.59,1950.80 L464.53,1951.45 L467.49,1952.08 L470.44,1952.70 L473.40,1953.31 L476.36,1953.91 L479.32,1954.49 L482.29,1955.07 L485.25,1955.63 L488.22,1956.17 L491.20,1956.71 L494.17,1957.23 L497.15,1957.74 L500.13,1958.24 L503.11,1958.72 L506.09,1959.19 L509.08,1959.65 L512.07,1960.09 L515.06,1960.53 L518.05,1960.95 L521.04,1961.36 L524.03,1961.76 L527.03,1962.15 L530.03,1962.52 L533.03,1962.89 L536.03,1963.24 L539.03,1963.58 L542.04,1963.92 L545.04,1964.24 L548.05,1964.55 L551.06,1964.86 L554.07,1965.15 L557.08,1965.44 L560.09,1965.71 L563.11,1965.98 L566.12,1966.24 L569.14,1966.49 L572.15,1966.73 L575.17,1966.96 L578.19,1967.19 L581.21,1967.41 L584.23,1967.62 L587.25,1967.82 L590.27,1968.01 L593.29,1968.20 L596.31,1968.38 L599.33,1968.56 L602.35,1968.72 L605.38,1968.89 L608.40,1969.04 L611.42,1969.19 L614.45,1969.33 L617.47,1969.47 L620.50,1969.60 L623.52,1969.72 L626.54,1969.84 L629.57,1969.96 L632.59,1970.07 L635.62,1970.17 L638.64,1970.27 L641.66,1970.37 L644.68,1970.46 L647.71,1970.54 L650.73,1970.62 L653.75,1970.69 L656.77,1970.77 L659.79,1970.83 L662.81,1970.89 L665.83,1970.95 L668.85,1971.00 L671.87,1971.05 L674.88,1971.10 L677.90,1971.14 L680.91,1971.17 L683.93,1971.21 L686.94,1971.24 L689.95,1971.26 L692.96,1971.29 L695.97,1971.31 L698.98,1971.32 L701.99,1971.34 L704.99,1971.35 L708.00,1971.35 L711.00,1971.35 L714.00,1971.35 L717.00,1971.35 L720.00,1971.35"/>
<path d="M161.50,1903.20 L164.36,1904.18 L167.21,1905.15 L170.07,1906.12 L172.93,1907.08 L175.80,1908.04 L178.67,1908.99 L181.54,1909.94 L184.41,1910.88 L187.28,1911.81 L190.16,1912.74 L193.04,1913.66 L195.92,1914.58 L198.81,1915.49 L201.69,1916.39 L204.58,1917.29 L207.48,1918.18 L210.37,1919.06 L213.27,1919.93 L216.16,1920.80 L219.07,1921.67 L221.97,1922.52 L224.87,1923.37 L227.78,1924.21 L230.69,1925.05 L233.60,1925.87 L236.52,1926.69 L239.43,1927.50 L242.35,1928.31 L245.27,1929.10 L248.19,1929.89 L251.12,1930.67 L254.04,1931.44 L256.97,1932.21 L259.90,1932.96 L262.83,1933.71 L265.77,1934.45 L268.70,1935.18 L271.64,1935.90 L274.58,1936.61 L277.52,1937.32 L280.47,1938.01 L283.41,1938.70 L286.36,1939.38 L289.31,1940.04 L292.26,1940.70 L295.21,1941.35 L298.16,1941.99 L301.12,1942.62 L304.08,1943.24 L307.04,1943.86 L310.00,1944.46 L312.96,1945.05 L315.92,1945.63 L318.89,1946.21 L321.86,1946.77 L324.82,1947.33 L327.79,1947.88 L330.77,1948.42 L333.74,1948.95 L336.71,1949.47 L339.69,1949.98 L342.67,1950.48 L345.64,1950.98 L348.62,1951.47 L351.61,1951.95 L354.59,1952.42 L357.57,1952.88 L360.56,1953.33 L363.54,1953.78 L366.53,1954.22 L369.52,1954.65 L372.51,1955.07 L375.50,1955.48 L378.49,1955.89 L381.49,1956.29 L384.48,1956.68 L387.48,1957.06 L390.47,1957.44 L393.47,1957.81 L396.47,1958.17 L399.47,1958.53 L402.47,1958.88 L405.47,1959.22 L408.48,1959.55 L411.48,1959.88 L414.49,1960.20 L417.49,1960.51 L420.50,1960.82 L423.50,1961.12 L426.51,1961.42 L429.52,1961.70 L432.53,1961.99 L435.54,1962.26 L438.55,1962.53 L441.57,1962.79 L444.58,1963.05 L447.59,1963.30 L450.61,1963.55 L453.62,1963.79 L456.64,1964.03 L459.65,1964.26 L462.67,1964.48 L465.69,1964.70 L468.70,1964.91 L471.72,1965.12 L474.74,1965.32 L477.76,1965.52 L480.78,1965.72 L483.80,1965.90 L486.82,1966.09 L489.84,1966.27 L492.86,1966.44 L495.88,1966.61 L498.91,1966.78 L501.93,1966.94 L504.95,1967.10 L507.97,1967.25 L511.00,1967.40 L514.02,1967.54 L517.04,1967.69 L520.07,1967.82 L523.09,1967.96 L526.12,1968.09 L529.14,1968.21 L532.17,1968.34 L535.19,1968.46 L538.21,1968.57 L541.24,1968.69 L544.26,1968.80 L547.29,1968.91 L550.31,1969.01 L553.34,1969.11 L556.36,1969.21 L559.39,1969.31 L562.41,1969.40 L565.44,1969.49 L568.46,1969.58 L571.49,1969.66 L574.51,1969.75 L577.53,1969.83 L580.56,1969.91 L583.58,1969.99 L586.60,1970.06 L589.63,1970.14 L592.65,1970.21 L595.67,1970.28 L598.69,1970.35 L601.72,1970.41 L604.74,1970.48 L607.76,1970.54 L610.78,1970.61 L613.80,1970.67 L616.82,1970.73 L619.84,1970.79 L622.86,1970.85 L625.87,1970.91 L628.89,1970.96 L631.91,1971.02 L634.93,1971.08 L637.94,1971.13 L640.96,1971.19 L643.97,1971.24 L646.99,1971.30 L650.00,1971.35"/>
<path d="M161.50,1937.00 L165.46,1937.79 L169.43,1938.56 L173.40,1939.32 L177.37,1940.06 L181.35,1940.78 L185.32,1941.49 L189.30,1942.18 L193.29,1942.85 L197.27,1943.50 L201.26,1944.13 L205.25,1944.74 L209.24,1945.33 L213.24,1945.89 L217.24,1946.44 L221.24,1946.97 L225.24,1947.49 L229.25,1947.99 L233.26,1948.48 L237.27,1948.97 L241.28,1949.45 L245.29,1949.93 L249.30,1950.42 L253.31,1950.90 L257.32,1951.39 L261.33,1951.89 L265.34,1952.39 L269.35,1952.89 L273.36,1953.39 L277.37,1953.90 L281.38,1954.40 L285.39,1954.90 L289.40,1955.39 L293.41,1955.89 L297.42,1956.37 L301.43,1956.85 L305.45,1957.33 L309.46,1957.79 L313.47,1958.25 L317.49,1958.69 L321.50,1959.12 L325.52,1959.54 L329.53,1959.95 L333.55,1960.34 L337.57,1960.71 L341.59,1961.07 L345.61,1961.40 L349.63,1961.72 L353.66,1962.03 L357.68,1962.33 L361.71,1962.62 L365.73,1962.91 L369.76,1963.20 L373.79,1963.48 L377.82,1963.75 L381.85,1964.02 L385.88,1964.29 L389.91,1964.54 L393.94,1964.79 L397.98,1965.04 L402.01,1965.28 L406.04,1965.51 L410.08,1965.73 L414.11,1965.95 L418.15,1966.15 L422.18,1966.35 L426.22,1966.55 L430.25,1966.73 L434.29,1966.90 L438.32,1967.07 L442.36,1967.23 L446.39,1967.38 L450.43,1967.51 L454.46,1967.64 L458.50,1967.76 L462.54,1967.87 L466.57,1967.97 L470.61,1968.07 L474.65,1968.16 L478.69,1968.25 L482.73,1968.34 L486.76,1968.43 L490.80,1968.52 L494.84,1968.62 L498.88,1968.72 L502.91,1968.83 L506.95,1968.95 L510.99,1969.07 L515.02,1969.20 L519.06,1969.33 L523.10,1969.46 L527.13,1969.59 L531.17,1969.72 L535.21,1969.85 L539.24,1969.97 L543.28,1970.09 L547.32,1970.20 L551.35,1970.31 L555.39,1970.40 L559.43,1970.49 L563.47,1970.57 L567.50,1970.64 L571.54,1970.71 L575.58,1970.79 L579.62,1970.85 L583.65,1970.92 L587.69,1970.98 L591.73,1971.04 L595.77,1971.10 L599.81,1971.15 L603.85,1971.20 L607.88,1971.25 L611.92,1971.29 L615.96,1971.32 L620.00,1971.35"/>
<path d="M161.50,1951.50 L165.55,1951.85 L169.61,1952.19 L173.66,1952.53 L177.72,1952.87 L181.77,1953.21 L185.83,1953.55 L189.88,1953.88 L193.94,1954.21 L197.99,1954.54 L202.05,1954.86 L206.11,1955.19 L210.16,1955.51 L214.22,1955.82 L218.28,1956.14 L222.33,1956.45 L226.39,1956.76 L230.45,1957.07 L234.50,1957.37 L238.56,1957.67 L242.62,1957.97 L246.68,1958.26 L250.73,1958.55 L254.79,1958.84 L258.85,1959.14 L262.91,1959.43 L266.97,1959.73 L271.03,1960.02 L275.08,1960.31 L279.14,1960.61 L283.20,1960.90 L287.26,1961.19 L291.32,1961.47 L295.38,1961.76 L299.44,1962.04 L303.50,1962.31 L307.56,1962.58 L311.62,1962.85 L315.68,1963.11 L319.74,1963.36 L323.80,1963.61 L327.87,1963.85 L331.93,1964.08 L335.99,1964.30 L340.05,1964.52 L344.11,1964.72 L348.18,1964.92 L352.24,1965.10 L356.30,1965.28 L360.37,1965.46 L364.43,1965.63 L368.50,1965.81 L372.56,1965.97 L376.63,1966.14 L380.69,1966.30 L384.76,1966.45 L388.83,1966.61 L392.89,1966.76 L396.96,1966.90 L401.02,1967.05 L405.09,1967.19 L409.16,1967.32 L413.23,1967.45 L417.29,1967.58 L421.36,1967.71 L425.43,1967.83 L429.50,1967.95 L433.56,1968.07 L437.63,1968.18 L441.70,1968.29 L445.76,1968.39 L449.83,1968.50 L453.90,1968.59 L457.97,1968.68 L462.03,1968.77 L466.10,1968.85 L470.17,1968.93 L474.24,1969.01 L478.31,1969.08 L482.37,1969.16 L486.44,1969.23 L490.51,1969.31 L494.58,1969.39 L498.65,1969.47 L502.71,1969.56 L506.78,1969.65 L510.85,1969.73 L514.92,1969.82 L518.99,1969.91 L523.05,1970.00 L527.12,1970.09 L531.19,1970.19 L535.26,1970.28 L539.32,1970.37 L543.39,1970.47 L547.46,1970.56 L551.53,1970.66 L555.59,1970.75 L559.66,1970.85 L563.73,1970.95 L567.80,1971.05 L571.86,1971.15 L575.93,1971.25 L580.00,1971.35"/>
<path d="M161.50,1958.50 L165.57,1958.72 L169.63,1958.94 L173.70,1959.16 L177.77,1959.38 L181.83,1959.60 L185.90,1959.81 L189.97,1960.03 L194.03,1960.24 L198.10,1960.45 L202.17,1960.66 L206.24,1960.87 L210.30,1961.07 L214.37,1961.28 L218.44,1961.48 L222.51,1961.68 L226.57,1961.88 L230.64,1962.08 L234.71,1962.28 L238.78,1962.47 L242.85,1962.67 L246.91,1962.86 L250.98,1963.05 L255.05,1963.24 L259.12,1963.43 L263.19,1963.62 L267.25,1963.81 L271.32,1964.00 L275.39,1964.20 L279.46,1964.39 L283.53,1964.58 L287.60,1964.77 L291.66,1964.96 L295.73,1965.14 L299.80,1965.33 L303.87,1965.51 L307.94,1965.69 L312.01,1965.86 L316.08,1966.03 L320.15,1966.20 L324.22,1966.36 L328.29,1966.52 L332.35,1966.67 L336.42,1966.81 L340.49,1966.95 L344.56,1967.08 L348.63,1967.21 L352.70,1967.33 L356.78,1967.44 L360.85,1967.55 L364.92,1967.66 L368.99,1967.77 L373.06,1967.87 L377.13,1967.97 L381.20,1968.06 L385.27,1968.15 L389.34,1968.25 L393.42,1968.33 L397.49,1968.42 L401.56,1968.51 L405.63,1968.59 L409.70,1968.68 L413.78,1968.76 L417.85,1968.84 L421.92,1968.92 L425.99,1969.00 L430.06,1969.09 L434.14,1969.17 L438.21,1969.25 L442.28,1969.34 L446.35,1969.42 L450.42,1969.51 L454.49,1969.60 L458.57,1969.68 L462.64,1969.77 L466.71,1969.86 L470.78,1969.94 L474.85,1970.03 L478.92,1970.11 L483.00,1970.20 L487.07,1970.28 L491.14,1970.37 L495.21,1970.45 L499.28,1970.53 L503.35,1970.62 L507.43,1970.70 L511.50,1970.78 L515.57,1970.86 L519.64,1970.95 L523.71,1971.03 L527.78,1971.11 L531.86,1971.19 L535.93,1971.27 L540.00,1971.35"/>
<path d="M161.50,1962.80 L165.58,1962.97 L169.65,1963.13 L173.73,1963.30 L177.81,1963.46 L181.88,1963.62 L185.96,1963.78 L190.04,1963.94 L194.11,1964.10 L198.19,1964.25 L202.27,1964.40 L206.34,1964.55 L210.42,1964.70 L214.50,1964.84 L218.58,1964.99 L222.65,1965.13 L226.73,1965.26 L230.81,1965.40 L234.88,1965.53 L238.96,1965.66 L243.04,1965.79 L247.12,1965.91 L251.20,1966.04 L255.27,1966.15 L259.35,1966.27 L263.43,1966.39 L267.51,1966.50 L271.59,1966.61 L275.66,1966.72 L279.74,1966.83 L283.82,1966.94 L287.90,1967.04 L291.98,1967.14 L296.06,1967.25 L300.13,1967.35 L304.21,1967.45 L308.29,1967.54 L312.37,1967.64 L316.45,1967.74 L320.53,1967.83 L324.61,1967.93 L328.68,1968.02 L332.76,1968.11 L336.84,1968.21 L340.92,1968.30 L345.00,1968.39 L349.08,1968.48 L353.16,1968.57 L357.24,1968.66 L361.31,1968.75 L365.39,1968.84 L369.47,1968.92 L373.55,1969.01 L377.63,1969.09 L381.71,1969.18 L385.79,1969.26 L389.87,1969.35 L393.94,1969.43 L398.02,1969.51 L402.10,1969.59 L406.18,1969.67 L410.26,1969.75 L414.34,1969.83 L418.42,1969.91 L422.50,1969.99 L426.58,1970.07 L430.66,1970.14 L434.73,1970.22 L438.81,1970.29 L442.89,1970.37 L446.97,1970.44 L451.05,1970.52 L455.13,1970.59 L459.21,1970.67 L463.29,1970.74 L467.37,1970.81 L471.45,1970.88 L475.52,1970.95 L479.60,1971.02 L483.68,1971.08 L487.76,1971.15 L491.84,1971.22 L495.92,1971.28 L500.00,1971.35"/>
<path d="M161.50,1965.40 L165.55,1965.46 L169.60,1965.52 L173.65,1965.58 L177.69,1965.64 L181.74,1965.70 L185.79,1965.75 L189.84,1965.81 L193.89,1965.87 L197.94,1965.93 L201.99,1965.99 L206.04,1966.04 L210.08,1966.10 L214.13,1966.16 L218.18,1966.21 L222.23,1966.27 L226.28,1966.32 L230.33,1966.38 L234.38,1966.43 L238.43,1966.49 L242.47,1966.54 L246.52,1966.59 L250.57,1966.65 L254.62,1966.70 L258.67,1966.75 L262.72,1966.80 L266.77,1966.86 L270.82,1966.91 L274.86,1966.96 L278.91,1967.01 L282.96,1967.06 L287.01,1967.11 L291.06,1967.15 L295.11,1967.20 L299.16,1967.25 L303.21,1967.30 L307.26,1967.34 L311.30,1967.39 L315.35,1967.43 L319.40,1967.48 L323.45,1967.52 L327.50,1967.56 L331.55,1967.61 L335.60,1967.65 L339.65,1967.69 L343.70,1967.74 L347.74,1967.78 L351.79,1967.82 L355.84,1967.86 L359.89,1967.90 L363.94,1967.94 L367.99,1967.98 L372.04,1968.02 L376.09,1968.06 L380.14,1968.10 L384.18,1968.14 L388.23,1968.18 L392.28,1968.22 L396.33,1968.26 L400.38,1968.30 L404.43,1968.34 L408.48,1968.38 L412.53,1968.42 L416.58,1968.45 L420.63,1968.49 L424.67,1968.53 L428.72,1968.57 L432.77,1968.61 L436.82,1968.65 L440.87,1968.69 L444.92,1968.73 L448.97,1968.77 L453.02,1968.81 L457.07,1968.85 L461.11,1968.89 L465.16,1968.93 L469.21,1968.97 L473.26,1969.02 L477.31,1969.06 L481.36,1969.10 L485.41,1969.14 L489.46,1969.19 L493.51,1969.23 L497.55,1969.27 L501.60,1969.32 L505.65,1969.36 L509.70,1969.41 L513.75,1969.46 L517.80,1969.50 L521.85,1969.55 L525.90,1969.60 L529.95,1969.65 L533.99,1969.70 L538.04,1969.75 L542.09,1969.80 L546.14,1969.85 L550.19,1969.90 L554.24,1969.95 L558.29,1970.00 L562.34,1970.05 L566.38,1970.10 L570.43,1970.15 L574.48,1970.20 L578.53,1970.25 L582.58,1970.30 L586.63,1970.34 L590.68,1970.39 L594.73,1970.44 L598.78,1970.48 L602.82,1970.53 L606.87,1970.57 L610.92,1970.61 L614.97,1970.65 L619.02,1970.69 L623.07,1970.73 L627.12,1970.77 L631.17,1970.80 L635.22,1970.84 L639.26,1970.88 L643.31,1970.91 L647.36,1970.95 L651.41,1970.98 L655.46,1971.02 L659.51,1971.05 L663.56,1971.08 L667.61,1971.11 L671.66,1971.15 L675.71,1971.18 L679.75,1971.21 L683.80,1971.24 L687.85,1971.27 L691.90,1971.29 L695.95,1971.32 L700.00,1971.35"/>
<path d="M161.50,1966.90 L165.53,1966.93 L169.57,1966.96 L173.60,1966.99 L177.64,1967.02 L181.67,1967.05 L185.71,1967.07 L189.74,1967.10 L193.78,1967.13 L197.81,1967.16 L201.84,1967.19 L205.88,1967.22 L209.91,1967.25 L213.95,1967.28 L217.98,1967.31 L222.02,1967.34 L226.05,1967.37 L230.08,1967.40 L234.12,1967.43 L238.15,1967.46 L242.19,1967.49 L246.22,1967.52 L250.26,1967.55 L254.29,1967.59 L258.33,1967.62 L262.36,1967.65 L266.39,1967.68 L270.43,1967.71 L274.46,1967.74 L278.50,1967.77 L282.53,1967.80 L286.57,1967.83 L290.60,1967.87 L294.63,1967.90 L298.67,1967.93 L302.70,1967.96 L306.74,1967.99 L310.77,1968.02 L314.81,1968.06 L318.84,1968.09 L322.88,1968.12 L326.91,1968.15 L330.94,1968.18 L334.98,1968.21 L339.01,1968.25 L343.05,1968.28 L347.08,1968.31 L351.12,1968.34 L355.15,1968.37 L359.18,1968.41 L363.22,1968.44 L367.25,1968.47 L371.29,1968.50 L375.32,1968.54 L379.36,1968.57 L383.39,1968.60 L387.43,1968.63 L391.46,1968.67 L395.49,1968.70 L399.53,1968.73 L403.56,1968.77 L407.60,1968.80 L411.63,1968.83 L415.67,1968.87 L419.70,1968.90 L423.73,1968.93 L427.77,1968.97 L431.80,1969.00 L435.84,1969.04 L439.87,1969.07 L443.91,1969.10 L447.94,1969.14 L451.97,1969.17 L456.01,1969.21 L460.04,1969.24 L464.08,1969.28 L468.11,1969.31 L472.15,1969.35 L476.18,1969.39 L480.22,1969.42 L484.25,1969.46 L488.28,1969.49 L492.32,1969.53 L496.35,1969.57 L500.39,1969.60 L504.42,1969.64 L508.46,1969.68 L512.49,1969.72 L516.52,1969.76 L520.56,1969.80 L524.59,1969.84 L528.63,1969.88 L532.66,1969.92 L536.70,1969.96 L540.73,1970.00 L544.76,1970.05 L548.80,1970.09 L552.83,1970.13 L556.87,1970.17 L560.90,1970.22 L564.94,1970.26 L568.97,1970.30 L573.00,1970.34 L577.04,1970.38 L581.07,1970.43 L585.11,1970.47 L589.14,1970.51 L593.18,1970.55 L597.21,1970.59 L601.24,1970.63 L605.28,1970.67 L609.31,1970.70 L613.35,1970.74 L617.38,1970.78 L621.42,1970.81 L625.45,1970.85 L629.48,1970.88 L633.52,1970.92 L637.55,1970.95 L641.59,1970.98 L645.62,1971.01 L649.66,1971.05 L653.69,1971.08 L657.72,1971.11 L661.76,1971.14 L665.79,1971.17 L669.83,1971.20 L673.86,1971.23 L677.90,1971.26 L681.93,1971.29 L685.97,1971.32 L690.00,1971.35"/>
<path d="M161.50,1967.70 L165.55,1967.72 L169.60,1967.75 L173.65,1967.77 L177.70,1967.79 L181.75,1967.82 L185.80,1967.84 L189.86,1967.86 L193.91,1967.89 L197.96,1967.91 L202.01,1967.93 L206.06,1967.96 L210.11,1967.98 L214.16,1968.00 L218.21,1968.03 L222.26,1968.05 L226.31,1968.08 L230.36,1968.10 L234.41,1968.13 L238.47,1968.15 L242.52,1968.17 L246.57,1968.20 L250.62,1968.22 L254.67,1968.25 L258.72,1968.27 L262.77,1968.30 L266.82,1968.32 L270.87,1968.35 L274.92,1968.37 L278.97,1968.40 L283.02,1968.42 L287.08,1968.45 L291.13,1968.48 L295.18,1968.50 L299.23,1968.53 L303.28,1968.55 L307.33,1968.58 L311.38,1968.60 L315.43,1968.63 L319.48,1968.66 L323.53,1968.68 L327.58,1968.71 L331.63,1968.73 L335.68,1968.76 L339.74,1968.78 L343.79,1968.81 L347.84,1968.84 L351.89,1968.86 L355.94,1968.89 L359.99,1968.91 L364.04,1968.94 L368.09,1968.97 L372.14,1968.99 L376.19,1969.02 L380.24,1969.05 L384.29,1969.07 L388.35,1969.10 L392.40,1969.13 L396.45,1969.15 L400.50,1969.18 L404.55,1969.21 L408.60,1969.23 L412.65,1969.26 L416.70,1969.29 L420.75,1969.32 L424.80,1969.35 L428.85,1969.37 L432.90,1969.40 L436.95,1969.43 L441.01,1969.46 L445.06,1969.49 L449.11,1969.52 L453.16,1969.55 L457.21,1969.58 L461.26,1969.61 L465.31,1969.63 L469.36,1969.66 L473.41,1969.70 L477.46,1969.73 L481.51,1969.76 L485.56,1969.79 L489.61,1969.82 L493.67,1969.85 L497.72,1969.88 L501.77,1969.91 L505.82,1969.95 L509.87,1969.98 L513.92,1970.02 L517.97,1970.05 L522.02,1970.09 L526.07,1970.13 L530.12,1970.17 L534.17,1970.20 L538.22,1970.24 L542.27,1970.28 L546.32,1970.32 L550.38,1970.36 L554.43,1970.40 L558.48,1970.44 L562.53,1970.48 L566.58,1970.52 L570.63,1970.56 L574.68,1970.60 L578.73,1970.63 L582.78,1970.67 L586.83,1970.71 L590.88,1970.74 L594.93,1970.78 L598.98,1970.81 L603.03,1970.85 L607.09,1970.88 L611.14,1970.91 L615.19,1970.94 L619.24,1970.97 L623.29,1971.00 L627.34,1971.02 L631.39,1971.05 L635.44,1971.08 L639.49,1971.11 L643.54,1971.13 L647.59,1971.16 L651.64,1971.18 L655.70,1971.21 L659.75,1971.23 L663.80,1971.26 L667.85,1971.28 L671.90,1971.31 L675.95,1971.33 L680.00,1971.35"/>
<path d="M161.50,1968.50 L165.55,1968.52 L169.61,1968.53 L173.66,1968.55 L177.71,1968.57 L181.76,1968.59 L185.82,1968.60 L189.87,1968.62 L193.92,1968.64 L197.98,1968.65 L202.03,1968.67 L206.08,1968.69 L210.13,1968.71 L214.19,1968.73 L218.24,1968.74 L222.29,1968.76 L226.35,1968.78 L230.40,1968.80 L234.45,1968.82 L238.50,1968.83 L242.56,1968.85 L246.61,1968.87 L250.66,1968.89 L254.72,1968.91 L258.77,1968.93 L262.82,1968.95 L266.87,1968.97 L270.93,1968.98 L274.98,1969.00 L279.03,1969.02 L283.09,1969.04 L287.14,1969.06 L291.19,1969.08 L295.24,1969.10 L299.30,1969.12 L303.35,1969.14 L307.40,1969.16 L311.46,1969.18 L315.51,1969.20 L319.56,1969.22 L323.61,1969.24 L327.67,1969.26 L331.72,1969.28 L335.77,1969.30 L339.83,1969.32 L343.88,1969.34 L347.93,1969.36 L351.99,1969.38 L356.04,1969.40 L360.09,1969.42 L364.14,1969.44 L368.20,1969.46 L372.25,1969.48 L376.30,1969.50 L380.36,1969.52 L384.41,1969.54 L388.46,1969.56 L392.51,1969.58 L396.57,1969.60 L400.62,1969.62 L404.67,1969.64 L408.73,1969.66 L412.78,1969.69 L416.83,1969.71 L420.88,1969.73 L424.94,1969.75 L428.99,1969.77 L433.04,1969.80 L437.10,1969.82 L441.15,1969.84 L445.20,1969.87 L449.25,1969.89 L453.31,1969.91 L457.36,1969.94 L461.41,1969.96 L465.47,1969.98 L469.52,1970.01 L473.57,1970.03 L477.62,1970.06 L481.68,1970.08 L485.73,1970.11 L489.78,1970.13 L493.83,1970.16 L497.89,1970.19 L501.94,1970.21 L505.99,1970.24 L510.05,1970.27 L514.10,1970.30 L518.15,1970.33 L522.20,1970.36 L526.26,1970.40 L530.31,1970.43 L534.36,1970.46 L538.42,1970.50 L542.47,1970.53 L546.52,1970.57 L550.57,1970.60 L554.63,1970.64 L558.68,1970.67 L562.73,1970.71 L566.78,1970.74 L570.84,1970.78 L574.89,1970.81 L578.94,1970.84 L583.00,1970.88 L587.05,1970.91 L591.10,1970.94 L595.15,1970.97 L599.21,1970.99 L603.26,1971.02 L607.31,1971.05 L611.37,1971.07 L615.42,1971.10 L619.47,1971.12 L623.52,1971.15 L627.58,1971.17 L631.63,1971.20 L635.68,1971.22 L639.74,1971.24 L643.79,1971.27 L647.84,1971.29 L651.89,1971.31 L655.95,1971.33 L660.00,1971.35"/>
<path d="M161.50,1969.30 L165.56,1969.31 L169.61,1969.33 L173.67,1969.34 L177.72,1969.36 L181.78,1969.37 L185.83,1969.39 L189.89,1969.40 L193.94,1969.42 L198.00,1969.43 L202.05,1969.45 L206.11,1969.47 L210.16,1969.48 L214.22,1969.50 L218.27,1969.51 L222.33,1969.53 L226.38,1969.54 L230.44,1969.56 L234.49,1969.57 L238.55,1969.59 L242.60,1969.60 L246.66,1969.62 L250.71,1969.63 L254.77,1969.65 L258.82,1969.66 L262.88,1969.68 L266.93,1969.69 L270.99,1969.71 L275.04,1969.72 L279.10,1969.74 L283.15,1969.75 L287.21,1969.77 L291.26,1969.79 L295.32,1969.80 L299.37,1969.82 L303.43,1969.83 L307.48,1969.85 L311.54,1969.86 L315.59,1969.88 L319.65,1969.89 L323.70,1969.91 L327.76,1969.92 L331.81,1969.94 L335.87,1969.95 L339.92,1969.97 L343.98,1969.98 L348.03,1970.00 L352.09,1970.01 L356.14,1970.03 L360.20,1970.04 L364.25,1970.06 L368.31,1970.07 L372.36,1970.09 L376.42,1970.10 L380.48,1970.12 L384.53,1970.13 L388.59,1970.15 L392.64,1970.16 L396.70,1970.18 L400.75,1970.19 L404.81,1970.21 L408.86,1970.22 L412.92,1970.24 L416.97,1970.25 L421.03,1970.27 L425.08,1970.29 L429.14,1970.30 L433.19,1970.32 L437.25,1970.33 L441.30,1970.35 L445.36,1970.37 L449.41,1970.38 L453.47,1970.40 L457.52,1970.42 L461.58,1970.43 L465.63,1970.45 L469.69,1970.47 L473.74,1970.48 L477.80,1970.50 L481.85,1970.52 L485.91,1970.54 L489.96,1970.55 L494.02,1970.57 L498.07,1970.59 L502.13,1970.61 L506.18,1970.63 L510.24,1970.65 L514.29,1970.67 L518.35,1970.69 L522.40,1970.71 L526.46,1970.73 L530.51,1970.75 L534.57,1970.77 L538.62,1970.79 L542.68,1970.81 L546.73,1970.83 L550.79,1970.85 L554.84,1970.87 L558.90,1970.89 L562.95,1970.91 L567.01,1970.93 L571.06,1970.96 L575.12,1970.98 L579.17,1971.00 L583.23,1971.02 L587.28,1971.05 L591.34,1971.07 L595.39,1971.09 L599.45,1971.11 L603.50,1971.14 L607.56,1971.16 L611.61,1971.18 L615.67,1971.21 L619.72,1971.23 L623.78,1971.25 L627.83,1971.28 L631.89,1971.30 L635.94,1971.33 L640.00,1971.35"/>
<path d="M161.50,1970.20 L165.56,1970.21 L169.62,1970.22 L173.68,1970.23 L177.74,1970.24 L181.80,1970.24 L185.86,1970.25 L189.92,1970.26 L193.98,1970.27 L198.04,1970.28 L202.10,1970.29 L206.16,1970.30 L210.22,1970.31 L214.28,1970.32 L218.34,1970.33 L222.40,1970.33 L226.46,1970.34 L230.52,1970.35 L234.58,1970.36 L238.64,1970.37 L242.70,1970.38 L246.76,1970.39 L250.82,1970.40 L254.88,1970.41 L258.94,1970.42 L263.00,1970.43 L267.06,1970.44 L271.13,1970.44 L275.19,1970.45 L279.25,1970.46 L283.31,1970.47 L287.37,1970.48 L291.43,1970.49 L295.49,1970.50 L299.55,1970.51 L303.61,1970.52 L307.67,1970.53 L311.73,1970.54 L315.79,1970.55 L319.85,1970.56 L323.91,1970.57 L327.97,1970.58 L332.03,1970.58 L336.09,1970.59 L340.15,1970.60 L344.21,1970.61 L348.27,1970.62 L352.33,1970.63 L356.39,1970.64 L360.45,1970.65 L364.51,1970.66 L368.57,1970.67 L372.63,1970.68 L376.69,1970.69 L380.75,1970.70 L384.81,1970.71 L388.87,1970.71 L392.93,1970.72 L396.99,1970.73 L401.05,1970.74 L405.11,1970.75 L409.17,1970.76 L413.23,1970.77 L417.29,1970.78 L421.35,1970.79 L425.41,1970.80 L429.47,1970.81 L433.53,1970.82 L437.59,1970.83 L441.65,1970.84 L445.71,1970.85 L449.77,1970.86 L453.83,1970.87 L457.89,1970.88 L461.95,1970.89 L466.01,1970.90 L470.07,1970.92 L474.13,1970.93 L478.19,1970.94 L482.25,1970.95 L486.32,1970.96 L490.38,1970.97 L494.44,1970.98 L498.50,1971.00 L502.56,1971.01 L506.62,1971.02 L510.68,1971.03 L514.74,1971.04 L518.80,1971.06 L522.86,1971.07 L526.92,1971.08 L530.98,1971.10 L535.04,1971.11 L539.10,1971.13 L543.16,1971.14 L547.22,1971.15 L551.28,1971.17 L555.34,1971.18 L559.40,1971.20 L563.46,1971.21 L567.52,1971.23 L571.58,1971.24 L575.64,1971.26 L579.70,1971.27 L583.76,1971.29 L587.82,1971.30 L591.88,1971.32 L595.94,1971.33 L600.00,1971.35"/>
<path d="M161.5,1971.35 L1072,1971.35"/>
<path d="M1090,1971.35 L1146,1971.35"/>
<path d="M1189.3,1971.35 L1242.9,1971.35"/>
</g>
<rect x="161.35" y="1133.3" width="1221.75" height="865.8500000000001" fill="none" stroke="#0b0b0b" stroke-width="2.95"/>
<path d="M364.97,1133.3 v12.9 M364.97,1999.15 v-12.9 M568.60,1133.3 v12.9 M568.60,1999.15 v-12.9 M772.22,1133.3 v12.9 M772.22,1999.15 v-12.9 M975.85,1133.3 v12.9 M975.85,1999.15 v-12.9 M1179.47,1133.3 v12.9 M1179.47,1999.15 v-12.9 M161.35,1971.30 h12.9 M1383.1,1971.30 h-12.9 M161.35,1831.63 h12.9 M1383.1,1831.63 h-12.9 M161.35,1691.97 h12.9 M1383.1,1691.97 h-12.9 M161.35,1552.30 h12.9 M1383.1,1552.30 h-12.9 M161.35,1412.64 h12.9 M1383.1,1412.64 h-12.9 M161.35,1272.97 h12.9 M1383.1,1272.97 h-12.9 " fill="none" stroke="#0b0b0b" stroke-width="2.7"/>
<text transform="translate(137.60,1985.50) scale(1.014,1)" font-family="'Liberation Sans', sans-serif" font-size="43" text-anchor="end" fill="#0b0b0b">0</text>
<text transform="translate(137.60,1845.84) scale(1.014,1)" font-family="'Liberation Sans', sans-serif" font-size="43" text-anchor="end" fill="#0b0b0b">5</text>
<clipPath id="k3"><rect x="84.10" y="1661.17" width="58.50" height="40.83"/><rect x="99.90" y="1699.17" width="4.3" height="9"/><rect x="113.35" y="1699.17" width="29.25" height="11"/></clipPath>
<g clip-path="url(#k3)"><text transform="translate(137.60,1706.17) scale(1.014,1)" font-family="'Liberation Sans', sans-serif" font-size="43" text-anchor="end" fill="#0b0b0b">10</text></g>
<clipPath id="k4"><rect x="84.10" y="1521.50" width="58.50" height="41.50"/><rect x="99.90" y="1559.50" width="4.3" height="9"/><rect x="113.35" y="1559.50" width="29.25" height="11"/></clipPath>
<g clip-path="url(#k4)"><text transform="translate(137.60,1566.50) scale(1.014,1)" font-family="'Liberation Sans', sans-serif" font-size="43" text-anchor="end" fill="#0b0b0b">15</text></g>
<text transform="translate(137.60,1426.84) scale(1.014,1)" font-family="'Liberation Sans', sans-serif" font-size="43" text-anchor="end" fill="#0b0b0b">20</text>
<text transform="translate(137.60,1287.17) scale(1.014,1)" font-family="'Liberation Sans', sans-serif" font-size="43" text-anchor="end" fill="#0b0b0b">25</text>
<text transform="translate(137.60,1147.51) scale(1.014,1)" font-family="'Liberation Sans', sans-serif" font-size="43" text-anchor="end" fill="#0b0b0b">30</text>
<text transform="translate(166.85,2053.70) scale(1.014,1)" font-family="'Liberation Sans', sans-serif" font-size="43" text-anchor="middle" fill="#0b0b0b">6</text>
<text transform="translate(370.47,2053.70) scale(1.014,1)" font-family="'Liberation Sans', sans-serif" font-size="43" text-anchor="middle" fill="#0b0b0b">5</text>
<text transform="translate(574.10,2053.70) scale(1.014,1)" font-family="'Liberation Sans', sans-serif" font-size="43" text-anchor="middle" fill="#0b0b0b">4</text>
<text transform="translate(777.72,2053.70) scale(1.014,1)" font-family="'Liberation Sans', sans-serif" font-size="43" text-anchor="middle" fill="#0b0b0b">3</text>
<text transform="translate(981.35,2053.70) scale(1.014,1)" font-family="'Liberation Sans', sans-serif" font-size="43" text-anchor="middle" fill="#0b0b0b">2</text>
<clipPath id="k5"><rect x="1167.85" y="2008.70" width="34.25" height="41.30"/><rect x="1183.65" y="2046.70" width="4.3" height="9"/><rect x="1197.10" y="2046.70" width="5.00" height="11"/></clipPath>
<g clip-path="url(#k5)"><text transform="translate(1184.97,2053.70) scale(1.014,1)" font-family="'Liberation Sans', sans-serif" font-size="43" text-anchor="middle" fill="#0b0b0b">1</text></g>
<text transform="translate(1388.60,2053.70) scale(1.014,1)" font-family="'Liberation Sans', sans-serif" font-size="43" text-anchor="middle" fill="#0b0b0b">0</text>
<text transform="translate(58.9,1566.5) rotate(-90)" font-family="'Liberation Sans', sans-serif" font-size="65.3" text-anchor="middle" fill="#0b0b0b">Obliquity</text>
<text y="2107.00" fill="#0b0b0b"><tspan x="714.00" font-family="'Liberation Serif', serif" font-size="70.5" stroke="#0b0b0b" stroke-width="0.9">ω</tspan><tspan font-family="'Liberation Sans', sans-serif" font-size="67"> </tspan><tspan x="774.70" font-family="'Liberation Sans', sans-serif" font-size="67.6" textLength="20.29" lengthAdjust="spacingAndGlyphs">/</tspan><tspan x="794.20" font-family="'Liberation Sans', sans-serif" font-size="67">n</tspan></text>
<text y="1195.70" font-family="'Liberation Serif', serif" font-weight="bold" fill="#0b0b0b"><tspan x="167.30" dy="1" font-size="54.4" textLength="15.04" lengthAdjust="spacingAndGlyphs">(</tspan><tspan x="183.70" dy="-1" font-size="50">b</tspan><tspan x="211.80" dy="1" font-size="54.4" textLength="15.04" lengthAdjust="spacingAndGlyphs">)</tspan></text>
</svg>
</body>
</html>
